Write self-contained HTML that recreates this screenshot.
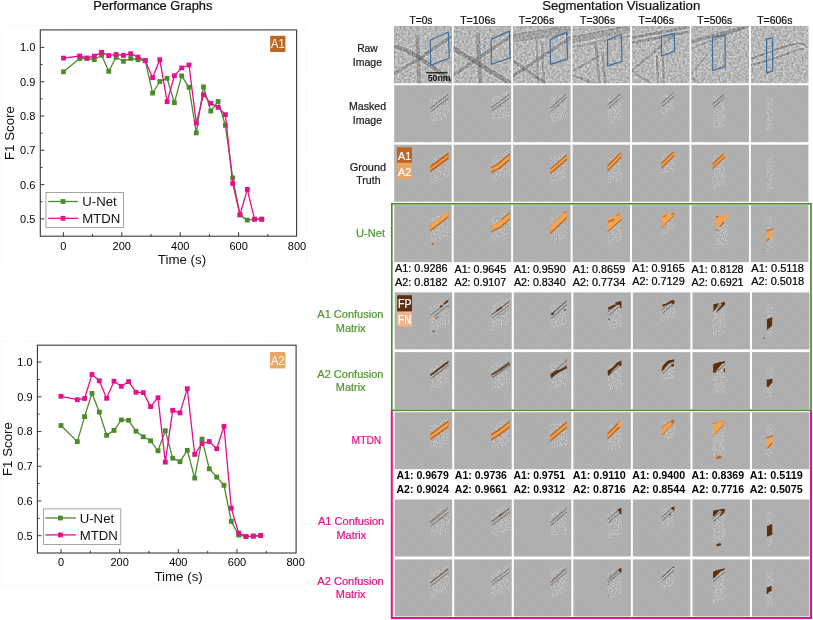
<!DOCTYPE html>
<html><head><meta charset="utf-8"><title>Figure</title>
<style>html,body{margin:0;padding:0;background:#fff;}body{width:813px;height:620px;overflow:hidden;font-family:"Liberation Sans",sans-serif;}svg{display:block;opacity:0.999;will-change:transform}</style>
</head><body>
<svg width="813" height="620" viewBox="0 0 813 620">

<defs>
<filter id="nraw" x="0" y="0" width="100%" height="100%" color-interpolation-filters="sRGB">
  <feTurbulence type="fractalNoise" baseFrequency="0.48" numOctaves="2" seed="3" result="t"/>
  <feColorMatrix in="t" type="matrix" values="1 0 0 0 0  1 0 0 0 0  1 0 0 0 0  0 0 0 0 1" result="g"/>
  <feGaussianBlur in="g" stdDeviation="0.5" result="gb"/>
  <feComposite in="SourceGraphic" in2="gb" operator="arithmetic" k1="0" k2="1" k3="0.44" k4="-0.22"/>
</filter>
<filter id="nmask" x="0" y="0" width="100%" height="100%" color-interpolation-filters="sRGB">
  <feTurbulence type="fractalNoise" baseFrequency="0.75" numOctaves="2" seed="8" result="t"/>
  <feColorMatrix in="t" type="matrix" values="1 0 0 0 0  1 0 0 0 0  1 0 0 0 0  0 0 0 0 1" result="g"/>
  <feGaussianBlur in="g" stdDeviation="0.3" result="gb"/>
  <feComposite in="SourceGraphic" in2="gb" operator="arithmetic" k1="0" k2="1" k3="0.34" k4="-0.15"/>
</filter>
<pattern id="hatch" width="2.3" height="2.3" patternUnits="userSpaceOnUse" patternTransform="rotate(-45)"><rect width="2.3" height="2.3" fill="#b2b2b2"/><rect width="1.15" height="2.3" fill="#acacac"/></pattern>
<filter id="b1" x="-20%" y="-20%" width="140%" height="140%"><feGaussianBlur stdDeviation="0.7"/></filter>
<filter id="b2" x="-20%" y="-20%" width="140%" height="140%"><feGaussianBlur stdDeviation="0.35"/></filter>
</defs>

<rect x="1.6" y="25.6" width="304.9" height="243.20000000000002" fill="none" stroke="#e6e6e6" stroke-width="0.6" stroke-dasharray="1 1.5"/>
<rect x="40.3" y="29.9" width="256.3" height="206.29999999999998" fill="#fff" stroke="#3a3a3a" stroke-width="1.1"/>
<line x1="40.3" y1="47.40" x2="44.3" y2="47.40" stroke="#3a3a3a" stroke-width="1"/>
<text x="35.4" y="51.30" text-anchor="end" font-family="Liberation Sans, sans-serif" font-size="11" fill="#000">1.0</text>
<line x1="40.3" y1="64.55" x2="42.5" y2="64.55" stroke="#3a3a3a" stroke-width="1"/>
<line x1="40.3" y1="81.70" x2="44.3" y2="81.70" stroke="#3a3a3a" stroke-width="1"/>
<text x="35.4" y="85.60" text-anchor="end" font-family="Liberation Sans, sans-serif" font-size="11" fill="#000">0.9</text>
<line x1="40.3" y1="98.85" x2="42.5" y2="98.85" stroke="#3a3a3a" stroke-width="1"/>
<line x1="40.3" y1="116.00" x2="44.3" y2="116.00" stroke="#3a3a3a" stroke-width="1"/>
<text x="35.4" y="119.90" text-anchor="end" font-family="Liberation Sans, sans-serif" font-size="11" fill="#000">0.8</text>
<line x1="40.3" y1="133.15" x2="42.5" y2="133.15" stroke="#3a3a3a" stroke-width="1"/>
<line x1="40.3" y1="150.30" x2="44.3" y2="150.30" stroke="#3a3a3a" stroke-width="1"/>
<text x="35.4" y="154.20" text-anchor="end" font-family="Liberation Sans, sans-serif" font-size="11" fill="#000">0.7</text>
<line x1="40.3" y1="167.45" x2="42.5" y2="167.45" stroke="#3a3a3a" stroke-width="1"/>
<line x1="40.3" y1="184.60" x2="44.3" y2="184.60" stroke="#3a3a3a" stroke-width="1"/>
<text x="35.4" y="188.50" text-anchor="end" font-family="Liberation Sans, sans-serif" font-size="11" fill="#000">0.6</text>
<line x1="40.3" y1="201.75" x2="42.5" y2="201.75" stroke="#3a3a3a" stroke-width="1"/>
<line x1="40.3" y1="218.90" x2="44.3" y2="218.90" stroke="#3a3a3a" stroke-width="1"/>
<text x="35.4" y="222.80" text-anchor="end" font-family="Liberation Sans, sans-serif" font-size="11" fill="#000">0.5</text>
<line x1="63.40" y1="236.2" x2="63.40" y2="232.2" stroke="#3a3a3a" stroke-width="1"/>
<line x1="92.60" y1="236.2" x2="92.60" y2="234.0" stroke="#3a3a3a" stroke-width="1"/>
<text x="63.40" y="249.5" text-anchor="middle" font-family="Liberation Sans, sans-serif" font-size="11" fill="#000">0</text>
<line x1="121.80" y1="236.2" x2="121.80" y2="232.2" stroke="#3a3a3a" stroke-width="1"/>
<line x1="151.00" y1="236.2" x2="151.00" y2="234.0" stroke="#3a3a3a" stroke-width="1"/>
<text x="121.80" y="249.5" text-anchor="middle" font-family="Liberation Sans, sans-serif" font-size="11" fill="#000">200</text>
<line x1="180.20" y1="236.2" x2="180.20" y2="232.2" stroke="#3a3a3a" stroke-width="1"/>
<line x1="209.40" y1="236.2" x2="209.40" y2="234.0" stroke="#3a3a3a" stroke-width="1"/>
<text x="180.20" y="249.5" text-anchor="middle" font-family="Liberation Sans, sans-serif" font-size="11" fill="#000">400</text>
<line x1="238.60" y1="236.2" x2="238.60" y2="232.2" stroke="#3a3a3a" stroke-width="1"/>
<line x1="267.80" y1="236.2" x2="267.80" y2="234.0" stroke="#3a3a3a" stroke-width="1"/>
<text x="238.60" y="249.5" text-anchor="middle" font-family="Liberation Sans, sans-serif" font-size="11" fill="#000">600</text>
<text x="297.00" y="249.5" text-anchor="middle" font-family="Liberation Sans, sans-serif" font-size="11" fill="#000">800</text>
<text x="182" y="264.3" text-anchor="middle" font-family="Liberation Sans, sans-serif" font-size="13.3" fill="#111">Time (s)</text>
<text transform="translate(14.3,133.04999999999998) rotate(-90)" text-anchor="middle" font-family="Liberation Sans, sans-serif" font-size="13.3" fill="#111">F1 Score</text>
<polyline points="63.5,71.8 79.7,58.5 87.0,58.5 94.3,59.7 101.6,55.2 108.8,71.3 116.1,57.3 123.4,61.3 130.7,58.5 138.0,59.7 145.3,60.5 152.6,93.1 159.8,81.5 167.1,78.3 174.4,102.7 181.7,75.9 189.0,87.3 196.3,132.9 203.5,86.9 210.8,111.1 218.1,101.5 225.4,125.3 232.7,177.9 240.0,215.0 247.3,220.1 254.5,219.2 261.8,219.2" fill="none" stroke="#4a8c2a" stroke-width="1.3" stroke-linejoin="round"/>
<rect x="61.1" y="69.4" width="4.8" height="4.8" fill="#4a8c2a"/>
<rect x="77.3" y="56.1" width="4.8" height="4.8" fill="#4a8c2a"/>
<rect x="84.6" y="56.1" width="4.8" height="4.8" fill="#4a8c2a"/>
<rect x="91.9" y="57.3" width="4.8" height="4.8" fill="#4a8c2a"/>
<rect x="99.2" y="52.8" width="4.8" height="4.8" fill="#4a8c2a"/>
<rect x="106.4" y="68.9" width="4.8" height="4.8" fill="#4a8c2a"/>
<rect x="113.7" y="54.9" width="4.8" height="4.8" fill="#4a8c2a"/>
<rect x="121.0" y="58.9" width="4.8" height="4.8" fill="#4a8c2a"/>
<rect x="128.3" y="56.1" width="4.8" height="4.8" fill="#4a8c2a"/>
<rect x="135.6" y="57.3" width="4.8" height="4.8" fill="#4a8c2a"/>
<rect x="142.9" y="58.1" width="4.8" height="4.8" fill="#4a8c2a"/>
<rect x="150.2" y="90.7" width="4.8" height="4.8" fill="#4a8c2a"/>
<rect x="157.4" y="79.1" width="4.8" height="4.8" fill="#4a8c2a"/>
<rect x="164.7" y="75.9" width="4.8" height="4.8" fill="#4a8c2a"/>
<rect x="172.0" y="100.3" width="4.8" height="4.8" fill="#4a8c2a"/>
<rect x="179.3" y="73.5" width="4.8" height="4.8" fill="#4a8c2a"/>
<rect x="186.6" y="84.9" width="4.8" height="4.8" fill="#4a8c2a"/>
<rect x="193.9" y="130.5" width="4.8" height="4.8" fill="#4a8c2a"/>
<rect x="201.1" y="84.5" width="4.8" height="4.8" fill="#4a8c2a"/>
<rect x="208.4" y="108.7" width="4.8" height="4.8" fill="#4a8c2a"/>
<rect x="215.7" y="99.1" width="4.8" height="4.8" fill="#4a8c2a"/>
<rect x="223.0" y="122.9" width="4.8" height="4.8" fill="#4a8c2a"/>
<rect x="230.3" y="175.5" width="4.8" height="4.8" fill="#4a8c2a"/>
<rect x="237.6" y="212.6" width="4.8" height="4.8" fill="#4a8c2a"/>
<rect x="244.9" y="217.7" width="4.8" height="4.8" fill="#4a8c2a"/>
<rect x="252.1" y="216.8" width="4.8" height="4.8" fill="#4a8c2a"/>
<rect x="259.4" y="216.8" width="4.8" height="4.8" fill="#4a8c2a"/>
<polyline points="63.5,58.1 79.7,56.0 87.0,57.9 94.3,56.1 101.6,52.3 108.8,55.6 116.1,54.4 123.4,55.5 130.7,53.7 138.0,57.1 145.3,60.8 152.6,77.7 159.8,59.7 167.1,101.7 174.4,75.7 181.7,67.9 189.0,65.0 196.3,123.1 203.5,94.7 210.8,103.3 218.1,107.4 225.4,114.7 232.7,183.5 240.0,214.7 247.3,189.4 254.5,219.2 261.8,219.2" fill="none" stroke="#e4108c" stroke-width="1.3" stroke-linejoin="round"/>
<rect x="61.1" y="55.7" width="4.8" height="4.8" fill="#e4108c"/>
<rect x="77.3" y="53.6" width="4.8" height="4.8" fill="#e4108c"/>
<rect x="84.6" y="55.5" width="4.8" height="4.8" fill="#e4108c"/>
<rect x="91.9" y="53.7" width="4.8" height="4.8" fill="#e4108c"/>
<rect x="99.2" y="49.9" width="4.8" height="4.8" fill="#e4108c"/>
<rect x="106.4" y="53.2" width="4.8" height="4.8" fill="#e4108c"/>
<rect x="113.7" y="52.0" width="4.8" height="4.8" fill="#e4108c"/>
<rect x="121.0" y="53.1" width="4.8" height="4.8" fill="#e4108c"/>
<rect x="128.3" y="51.3" width="4.8" height="4.8" fill="#e4108c"/>
<rect x="135.6" y="54.7" width="4.8" height="4.8" fill="#e4108c"/>
<rect x="142.9" y="58.4" width="4.8" height="4.8" fill="#e4108c"/>
<rect x="150.2" y="75.3" width="4.8" height="4.8" fill="#e4108c"/>
<rect x="157.4" y="57.3" width="4.8" height="4.8" fill="#e4108c"/>
<rect x="164.7" y="99.3" width="4.8" height="4.8" fill="#e4108c"/>
<rect x="172.0" y="73.3" width="4.8" height="4.8" fill="#e4108c"/>
<rect x="179.3" y="65.5" width="4.8" height="4.8" fill="#e4108c"/>
<rect x="186.6" y="62.6" width="4.8" height="4.8" fill="#e4108c"/>
<rect x="193.9" y="120.7" width="4.8" height="4.8" fill="#e4108c"/>
<rect x="201.1" y="92.3" width="4.8" height="4.8" fill="#e4108c"/>
<rect x="208.4" y="100.9" width="4.8" height="4.8" fill="#e4108c"/>
<rect x="215.7" y="105.0" width="4.8" height="4.8" fill="#e4108c"/>
<rect x="223.0" y="112.3" width="4.8" height="4.8" fill="#e4108c"/>
<rect x="230.3" y="181.1" width="4.8" height="4.8" fill="#e4108c"/>
<rect x="237.6" y="212.3" width="4.8" height="4.8" fill="#e4108c"/>
<rect x="244.9" y="187.0" width="4.8" height="4.8" fill="#e4108c"/>
<rect x="252.1" y="216.8" width="4.8" height="4.8" fill="#e4108c"/>
<rect x="259.4" y="216.8" width="4.8" height="4.8" fill="#e4108c"/>
<rect x="270.2" y="35.8" width="15.199999999999989" height="16.200000000000003" fill="#bf6522"/>
<text x="271.0" y="48.4" font-family="Liberation Sans, sans-serif" font-size="12" fill="#fff" textLength="13.6" lengthAdjust="spacingAndGlyphs">A1</text>
<rect x="46.0" y="192.5" width="77.4" height="35.0" fill="#fff" stroke="#8f8f8f" stroke-width="0.8"/>
<line x1="48.2" y1="201.5" x2="78.3" y2="201.5" stroke="#4a8c2a" stroke-width="1.3"/>
<rect x="60.6" y="199.1" width="4.8" height="4.8" fill="#4a8c2a"/>
<text x="82.3" y="206.2" font-family="Liberation Sans, sans-serif" font-size="13.2" fill="#111">U-Net</text>
<line x1="48.2" y1="218.3" x2="78.3" y2="218.3" stroke="#e4108c" stroke-width="1.3"/>
<rect x="60.6" y="215.9" width="4.8" height="4.8" fill="#e4108c"/>
<text x="82.3" y="223.0" font-family="Liberation Sans, sans-serif" font-size="13.2" fill="#111">MTDN</text>
<rect x="1.6" y="341" width="302.4" height="244.29999999999995" fill="none" stroke="#e6e6e6" stroke-width="0.6" stroke-dasharray="1 1.5"/>
<rect x="37.4" y="345.2" width="258.70000000000005" height="207.8" fill="#fff" stroke="#3a3a3a" stroke-width="1.1"/>
<line x1="37.4" y1="362.10" x2="41.4" y2="362.10" stroke="#3a3a3a" stroke-width="1"/>
<text x="32.6" y="366.00" text-anchor="end" font-family="Liberation Sans, sans-serif" font-size="11" fill="#000">1.0</text>
<line x1="37.4" y1="379.46" x2="39.6" y2="379.46" stroke="#3a3a3a" stroke-width="1"/>
<line x1="37.4" y1="396.82" x2="41.4" y2="396.82" stroke="#3a3a3a" stroke-width="1"/>
<text x="32.6" y="400.72" text-anchor="end" font-family="Liberation Sans, sans-serif" font-size="11" fill="#000">0.9</text>
<line x1="37.4" y1="414.18" x2="39.6" y2="414.18" stroke="#3a3a3a" stroke-width="1"/>
<line x1="37.4" y1="431.54" x2="41.4" y2="431.54" stroke="#3a3a3a" stroke-width="1"/>
<text x="32.6" y="435.44" text-anchor="end" font-family="Liberation Sans, sans-serif" font-size="11" fill="#000">0.8</text>
<line x1="37.4" y1="448.90" x2="39.6" y2="448.90" stroke="#3a3a3a" stroke-width="1"/>
<line x1="37.4" y1="466.26" x2="41.4" y2="466.26" stroke="#3a3a3a" stroke-width="1"/>
<text x="32.6" y="470.16" text-anchor="end" font-family="Liberation Sans, sans-serif" font-size="11" fill="#000">0.7</text>
<line x1="37.4" y1="483.62" x2="39.6" y2="483.62" stroke="#3a3a3a" stroke-width="1"/>
<line x1="37.4" y1="500.98" x2="41.4" y2="500.98" stroke="#3a3a3a" stroke-width="1"/>
<text x="32.6" y="504.88" text-anchor="end" font-family="Liberation Sans, sans-serif" font-size="11" fill="#000">0.6</text>
<line x1="37.4" y1="518.34" x2="39.6" y2="518.34" stroke="#3a3a3a" stroke-width="1"/>
<line x1="37.4" y1="535.70" x2="41.4" y2="535.70" stroke="#3a3a3a" stroke-width="1"/>
<text x="32.6" y="539.60" text-anchor="end" font-family="Liberation Sans, sans-serif" font-size="11" fill="#000">0.5</text>
<line x1="61.00" y1="553.0" x2="61.00" y2="549.0" stroke="#3a3a3a" stroke-width="1"/>
<line x1="90.33" y1="553.0" x2="90.33" y2="550.8" stroke="#3a3a3a" stroke-width="1"/>
<text x="61.00" y="566.3" text-anchor="middle" font-family="Liberation Sans, sans-serif" font-size="11" fill="#000">0</text>
<line x1="119.66" y1="553.0" x2="119.66" y2="549.0" stroke="#3a3a3a" stroke-width="1"/>
<line x1="148.99" y1="553.0" x2="148.99" y2="550.8" stroke="#3a3a3a" stroke-width="1"/>
<text x="119.66" y="566.3" text-anchor="middle" font-family="Liberation Sans, sans-serif" font-size="11" fill="#000">200</text>
<line x1="178.32" y1="553.0" x2="178.32" y2="549.0" stroke="#3a3a3a" stroke-width="1"/>
<line x1="207.65" y1="553.0" x2="207.65" y2="550.8" stroke="#3a3a3a" stroke-width="1"/>
<text x="178.32" y="566.3" text-anchor="middle" font-family="Liberation Sans, sans-serif" font-size="11" fill="#000">400</text>
<line x1="236.98" y1="553.0" x2="236.98" y2="549.0" stroke="#3a3a3a" stroke-width="1"/>
<line x1="266.31" y1="553.0" x2="266.31" y2="550.8" stroke="#3a3a3a" stroke-width="1"/>
<text x="236.98" y="566.3" text-anchor="middle" font-family="Liberation Sans, sans-serif" font-size="11" fill="#000">600</text>
<text x="295.64" y="566.3" text-anchor="middle" font-family="Liberation Sans, sans-serif" font-size="11" fill="#000">800</text>
<text x="178.6" y="581.3" text-anchor="middle" font-family="Liberation Sans, sans-serif" font-size="13.3" fill="#111">Time (s)</text>
<text transform="translate(11.6,449.1) rotate(-90)" text-anchor="middle" font-family="Liberation Sans, sans-serif" font-size="13.3" fill="#111">F1 Score</text>
<polyline points="61.0,425.5 77.3,441.6 84.6,416.6 92.0,393.4 99.3,412.1 106.6,435.3 114.0,430.4 121.3,419.9 128.6,420.3 136.0,431.2 143.3,436.8 150.6,440.8 158.0,450.8 165.3,430.7 172.7,458.2 180.0,461.7 187.3,450.3 194.7,478.1 202.0,439.1 209.3,468.8 216.7,477.1 224.0,485.3 231.3,521.4 238.7,535.1 246.0,536.5 253.3,536.1 260.7,535.5" fill="none" stroke="#4a8c2a" stroke-width="1.3" stroke-linejoin="round"/>
<rect x="58.6" y="423.1" width="4.8" height="4.8" fill="#4a8c2a"/>
<rect x="74.9" y="439.2" width="4.8" height="4.8" fill="#4a8c2a"/>
<rect x="82.2" y="414.2" width="4.8" height="4.8" fill="#4a8c2a"/>
<rect x="89.6" y="391.0" width="4.8" height="4.8" fill="#4a8c2a"/>
<rect x="96.9" y="409.7" width="4.8" height="4.8" fill="#4a8c2a"/>
<rect x="104.2" y="432.9" width="4.8" height="4.8" fill="#4a8c2a"/>
<rect x="111.6" y="428.0" width="4.8" height="4.8" fill="#4a8c2a"/>
<rect x="118.9" y="417.5" width="4.8" height="4.8" fill="#4a8c2a"/>
<rect x="126.2" y="417.9" width="4.8" height="4.8" fill="#4a8c2a"/>
<rect x="133.6" y="428.8" width="4.8" height="4.8" fill="#4a8c2a"/>
<rect x="140.9" y="434.4" width="4.8" height="4.8" fill="#4a8c2a"/>
<rect x="148.2" y="438.4" width="4.8" height="4.8" fill="#4a8c2a"/>
<rect x="155.6" y="448.4" width="4.8" height="4.8" fill="#4a8c2a"/>
<rect x="162.9" y="428.3" width="4.8" height="4.8" fill="#4a8c2a"/>
<rect x="170.3" y="455.8" width="4.8" height="4.8" fill="#4a8c2a"/>
<rect x="177.6" y="459.3" width="4.8" height="4.8" fill="#4a8c2a"/>
<rect x="184.9" y="447.9" width="4.8" height="4.8" fill="#4a8c2a"/>
<rect x="192.3" y="475.7" width="4.8" height="4.8" fill="#4a8c2a"/>
<rect x="199.6" y="436.7" width="4.8" height="4.8" fill="#4a8c2a"/>
<rect x="206.9" y="466.4" width="4.8" height="4.8" fill="#4a8c2a"/>
<rect x="214.3" y="474.7" width="4.8" height="4.8" fill="#4a8c2a"/>
<rect x="221.6" y="482.9" width="4.8" height="4.8" fill="#4a8c2a"/>
<rect x="228.9" y="519.0" width="4.8" height="4.8" fill="#4a8c2a"/>
<rect x="236.3" y="532.7" width="4.8" height="4.8" fill="#4a8c2a"/>
<rect x="243.6" y="534.1" width="4.8" height="4.8" fill="#4a8c2a"/>
<rect x="250.9" y="533.7" width="4.8" height="4.8" fill="#4a8c2a"/>
<rect x="258.3" y="533.1" width="4.8" height="4.8" fill="#4a8c2a"/>
<polyline points="61.0,396.3 77.3,399.7 84.6,398.5 92.0,374.5 99.3,380.8 106.6,398.3 114.0,381.2 121.3,386.3 128.6,381.6 136.0,392.2 143.3,392.6 150.6,406.6 158.0,397.7 165.3,462.1 172.7,410.3 180.0,412.9 187.3,388.7 194.7,454.4 202.0,443.6 209.3,441.5 216.7,448.7 224.0,426.3 231.3,508.2 238.7,533.2 246.0,536.5 253.3,536.1 260.7,535.5" fill="none" stroke="#e4108c" stroke-width="1.3" stroke-linejoin="round"/>
<rect x="58.6" y="393.9" width="4.8" height="4.8" fill="#e4108c"/>
<rect x="74.9" y="397.3" width="4.8" height="4.8" fill="#e4108c"/>
<rect x="82.2" y="396.1" width="4.8" height="4.8" fill="#e4108c"/>
<rect x="89.6" y="372.1" width="4.8" height="4.8" fill="#e4108c"/>
<rect x="96.9" y="378.4" width="4.8" height="4.8" fill="#e4108c"/>
<rect x="104.2" y="395.9" width="4.8" height="4.8" fill="#e4108c"/>
<rect x="111.6" y="378.8" width="4.8" height="4.8" fill="#e4108c"/>
<rect x="118.9" y="383.9" width="4.8" height="4.8" fill="#e4108c"/>
<rect x="126.2" y="379.2" width="4.8" height="4.8" fill="#e4108c"/>
<rect x="133.6" y="389.8" width="4.8" height="4.8" fill="#e4108c"/>
<rect x="140.9" y="390.2" width="4.8" height="4.8" fill="#e4108c"/>
<rect x="148.2" y="404.2" width="4.8" height="4.8" fill="#e4108c"/>
<rect x="155.6" y="395.3" width="4.8" height="4.8" fill="#e4108c"/>
<rect x="162.9" y="459.7" width="4.8" height="4.8" fill="#e4108c"/>
<rect x="170.3" y="407.9" width="4.8" height="4.8" fill="#e4108c"/>
<rect x="177.6" y="410.5" width="4.8" height="4.8" fill="#e4108c"/>
<rect x="184.9" y="386.3" width="4.8" height="4.8" fill="#e4108c"/>
<rect x="192.3" y="452.0" width="4.8" height="4.8" fill="#e4108c"/>
<rect x="199.6" y="441.2" width="4.8" height="4.8" fill="#e4108c"/>
<rect x="206.9" y="439.1" width="4.8" height="4.8" fill="#e4108c"/>
<rect x="214.3" y="446.3" width="4.8" height="4.8" fill="#e4108c"/>
<rect x="221.6" y="423.9" width="4.8" height="4.8" fill="#e4108c"/>
<rect x="228.9" y="505.8" width="4.8" height="4.8" fill="#e4108c"/>
<rect x="236.3" y="530.8" width="4.8" height="4.8" fill="#e4108c"/>
<rect x="243.6" y="534.1" width="4.8" height="4.8" fill="#e4108c"/>
<rect x="250.9" y="533.7" width="4.8" height="4.8" fill="#e4108c"/>
<rect x="258.3" y="533.1" width="4.8" height="4.8" fill="#e4108c"/>
<rect x="270.1" y="352.0" width="15.299999999999955" height="16.399999999999977" fill="#e9a562"/>
<text x="270.90000000000003" y="364.79999999999995" font-family="Liberation Sans, sans-serif" font-size="12" fill="#fff" textLength="13.7" lengthAdjust="spacingAndGlyphs">A2</text>
<rect x="43.5" y="508.9" width="77.3" height="35.5" fill="#fff" stroke="#8f8f8f" stroke-width="0.8"/>
<line x1="45.3" y1="518.0" x2="76.0" y2="518.0" stroke="#4a8c2a" stroke-width="1.3"/>
<rect x="58.0" y="515.6" width="4.8" height="4.8" fill="#4a8c2a"/>
<text x="79.7" y="522.7" font-family="Liberation Sans, sans-serif" font-size="13.2" fill="#111">U-Net</text>
<line x1="45.3" y1="534.9" x2="76.0" y2="534.9" stroke="#e4108c" stroke-width="1.3"/>
<rect x="58.0" y="532.5" width="4.8" height="4.8" fill="#e4108c"/>
<text x="79.7" y="539.6" font-family="Liberation Sans, sans-serif" font-size="13.2" fill="#111">MTDN</text>
<text x="93.3" y="9.7" font-family="Liberation Sans, sans-serif" font-size="12.0" font-weight="normal" fill="#111" stroke="#111" stroke-width="0.22" textLength="119.1" lengthAdjust="spacingAndGlyphs">Performance Graphs</text>
<text x="542.3" y="9.8" font-family="Liberation Sans, sans-serif" font-size="12.0" font-weight="normal" fill="#111" stroke="#111" stroke-width="0.22" textLength="157.9" lengthAdjust="spacingAndGlyphs">Segmentation Visualization</text>
<text x="409.6" y="24.1" font-family="Liberation Sans, sans-serif" font-size="10.1" font-weight="normal" fill="#111" stroke="#111" stroke-width="0.22" textLength="22.7" lengthAdjust="spacingAndGlyphs">T=0s</text>
<text x="460.2" y="24.1" font-family="Liberation Sans, sans-serif" font-size="10.1" font-weight="normal" fill="#111" stroke="#111" stroke-width="0.22" textLength="35.4" lengthAdjust="spacingAndGlyphs">T=106s</text>
<text x="518.8" y="24.1" font-family="Liberation Sans, sans-serif" font-size="10.1" font-weight="normal" fill="#111" stroke="#111" stroke-width="0.22" textLength="35.4" lengthAdjust="spacingAndGlyphs">T=206s</text>
<text x="580.1" y="24.1" font-family="Liberation Sans, sans-serif" font-size="10.1" font-weight="normal" fill="#111" stroke="#111" stroke-width="0.22" textLength="35.0" lengthAdjust="spacingAndGlyphs">T=306s</text>
<text x="638.6" y="24.1" font-family="Liberation Sans, sans-serif" font-size="10.1" font-weight="normal" fill="#111" stroke="#111" stroke-width="0.22" textLength="35.4" lengthAdjust="spacingAndGlyphs">T=406s</text>
<text x="697.3" y="24.1" font-family="Liberation Sans, sans-serif" font-size="10.1" font-weight="normal" fill="#111" stroke="#111" stroke-width="0.22" textLength="34.9" lengthAdjust="spacingAndGlyphs">T=506s</text>
<text x="757.2" y="24.1" font-family="Liberation Sans, sans-serif" font-size="10.1" font-weight="normal" fill="#111" stroke="#111" stroke-width="0.22" textLength="35.2" lengthAdjust="spacingAndGlyphs">T=606s</text>
<text x="357.2" y="51.9" font-family="Liberation Sans, sans-serif" font-size="10.6" font-weight="normal" fill="#1a1a1a" stroke="#1a1a1a" stroke-width="0.22" textLength="20.6" lengthAdjust="spacingAndGlyphs">Raw</text>
<text x="352.8" y="65.7" font-family="Liberation Sans, sans-serif" font-size="10.6" font-weight="normal" fill="#1a1a1a" stroke="#1a1a1a" stroke-width="0.22" textLength="29.3" lengthAdjust="spacingAndGlyphs">Image</text>
<text x="348.9" y="110.3" font-family="Liberation Sans, sans-serif" font-size="10.6" font-weight="normal" fill="#1a1a1a" stroke="#1a1a1a" stroke-width="0.22" textLength="37.2" lengthAdjust="spacingAndGlyphs">Masked</text>
<text x="352.8" y="124.1" font-family="Liberation Sans, sans-serif" font-size="10.6" font-weight="normal" fill="#1a1a1a" stroke="#1a1a1a" stroke-width="0.22" textLength="29.3" lengthAdjust="spacingAndGlyphs">Image</text>
<text x="349.7" y="170.5" font-family="Liberation Sans, sans-serif" font-size="10.6" font-weight="normal" fill="#1a1a1a" stroke="#1a1a1a" stroke-width="0.22" textLength="36.4" lengthAdjust="spacingAndGlyphs">Ground</text>
<text x="356.3" y="184.0" font-family="Liberation Sans, sans-serif" font-size="10.6" font-weight="normal" fill="#1a1a1a" stroke="#1a1a1a" stroke-width="0.22" textLength="24.2" lengthAdjust="spacingAndGlyphs">Truth</text>
<text x="356.0" y="236.8" font-family="Liberation Sans, sans-serif" font-size="10.6" font-weight="normal" fill="#4f962f" stroke="#4f962f" stroke-width="0.22" textLength="29.0" lengthAdjust="spacingAndGlyphs">U-Net</text>
<text x="317.3" y="317.9" font-family="Liberation Sans, sans-serif" font-size="10.6" font-weight="normal" fill="#4f962f" stroke="#4f962f" stroke-width="0.22" textLength="66.1" lengthAdjust="spacingAndGlyphs">A1 Confusion</text>
<text x="335.8" y="331.8" font-family="Liberation Sans, sans-serif" font-size="10.6" font-weight="normal" fill="#4f962f" stroke="#4f962f" stroke-width="0.22" textLength="29.8" lengthAdjust="spacingAndGlyphs">Matrix</text>
<text x="317.3" y="377.7" font-family="Liberation Sans, sans-serif" font-size="10.6" font-weight="normal" fill="#4f962f" stroke="#4f962f" stroke-width="0.22" textLength="66.2" lengthAdjust="spacingAndGlyphs">A2 Confusion</text>
<text x="335.8" y="391.3" font-family="Liberation Sans, sans-serif" font-size="10.6" font-weight="normal" fill="#4f962f" stroke="#4f962f" stroke-width="0.22" textLength="29.8" lengthAdjust="spacingAndGlyphs">Matrix</text>
<text x="351.6" y="443.9" font-family="Liberation Sans, sans-serif" font-size="10.6" font-weight="normal" fill="#e3128a" stroke="#e3128a" stroke-width="0.22" textLength="29.7" lengthAdjust="spacingAndGlyphs">MTDN</text>
<text x="318.0" y="524.8" font-family="Liberation Sans, sans-serif" font-size="10.6" font-weight="normal" fill="#e3128a" stroke="#e3128a" stroke-width="0.22" textLength="66.2" lengthAdjust="spacingAndGlyphs">A1 Confusion</text>
<text x="336.6" y="538.5" font-family="Liberation Sans, sans-serif" font-size="10.6" font-weight="normal" fill="#e3128a" stroke="#e3128a" stroke-width="0.22" textLength="29.5" lengthAdjust="spacingAndGlyphs">Matrix</text>
<text x="317.3" y="584.8" font-family="Liberation Sans, sans-serif" font-size="10.6" font-weight="normal" fill="#e3128a" stroke="#e3128a" stroke-width="0.22" textLength="66.4" lengthAdjust="spacingAndGlyphs">A2 Confusion</text>
<text x="335.8" y="598.4" font-family="Liberation Sans, sans-serif" font-size="10.6" font-weight="normal" fill="#e3128a" stroke="#e3128a" stroke-width="0.22" textLength="29.8" lengthAdjust="spacingAndGlyphs">Matrix</text>
<clipPath id="c1"><rect x="394.20" y="26.30" width="57.5" height="57.0"/></clipPath>
<g clip-path="url(#c1)"><g filter="url(#nraw)">
<rect x="394.20" y="26.30" width="57.5" height="57.0" fill="#b7b7b7"/>
<g transform="translate(394.20,26.30)" filter="url(#b1)" fill="none" stroke="#646464" stroke-linecap="round">
<path d="M-2,20 C12,22 24,30 40,42 L60,58" stroke="#e8e8e8" stroke-width="6.9" stroke-opacity="0.30"/>
<path d="M-2,49 L30,29 L60,8" stroke="#e8e8e8" stroke-width="5.9" stroke-opacity="0.28"/>
<path d="M23,10 L25,60" stroke="#e8e8e8" stroke-width="6.4" stroke-opacity="0.25"/>
<path d="M3,8 a3,3 0 1,0 0.1,0" stroke="#e8e8e8" stroke-width="3.5999999999999996" stroke-opacity="0.22"/>
<path d="M-2,20 C12,22 24,30 40,42 L60,58" stroke-width="4.5" stroke-opacity="0.55"/>
<path d="M-2,49 L30,29 L60,8" stroke-width="3.5" stroke-opacity="0.5"/>
<path d="M23,10 L25,60" stroke-width="4" stroke-opacity="0.45"/>
<path d="M3,8 a3,3 0 1,0 0.1,0" stroke-width="1.2" stroke-opacity="0.4"/>
</g></g>
<polygon points="430.20,40.20 448.30,32.00 449.30,58.00 430.60,65.40" fill="none" stroke="#3f6f9b" stroke-width="1.2" stroke-linejoin="round"/>
</g>
<clipPath id="c2"><rect x="394.20" y="85.20" width="57.5" height="57.0"/></clipPath>
<rect x="394.20" y="85.20" width="57.5" height="57.0" fill="url(#hatch)"/>
<clipPath id="c3"><polygon points="430.20,99.10 448.30,90.90 449.30,116.90 430.60,124.30"/></clipPath>
<g clip-path="url(#c2)"><g clip-path="url(#c3)"><g filter="url(#nmask)">
<rect x="394.20" y="85.20" width="57.5" height="57.0" fill="#b0b0b0"/>
<g transform="translate(394.20,85.20)" fill="none" stroke="#6c6c6c" stroke-opacity=".7" filter="url(#b2)"><path d="M35.6,25.5 L55,10.3" stroke-width="4.2"/><path d="M35.6,25.5 L55,10.3" stroke="#b8b8b8" stroke-opacity="1" stroke-width="1.5"/></g>
</g>
</g>
</g>
<clipPath id="c4"><rect x="394.20" y="144.70" width="57.5" height="57.0"/></clipPath>
<rect x="394.20" y="144.70" width="57.5" height="57.0" fill="url(#hatch)"/>
<clipPath id="c5"><polygon points="430.20,158.60 448.30,150.40 449.30,176.40 430.60,183.80"/></clipPath>
<g clip-path="url(#c4)"><g clip-path="url(#c5)"><g filter="url(#nmask)">
<rect x="394.20" y="144.70" width="57.5" height="57.0" fill="#b0b0b0"/>
</g>
<g transform="translate(394.20,144.70)"><path d="M30,28.8 L60,6.8" fill="none" stroke="#c4651c" stroke-width="5.6" stroke-opacity="1" stroke-linecap="butt" stroke-linejoin="round"/><path d="M30,28.8 L60,6.8" fill="none" stroke="#efa556" stroke-width="1.5" stroke-opacity="1" stroke-linecap="butt" stroke-linejoin="round"/></g>
</g>
</g>
<clipPath id="c6"><rect x="394.20" y="205.10" width="57.5" height="57.0"/></clipPath>
<rect x="394.20" y="205.10" width="57.5" height="57.0" fill="url(#hatch)"/>
<clipPath id="c7"><polygon points="430.20,219.00 448.30,210.80 449.30,236.80 430.60,244.20"/></clipPath>
<g clip-path="url(#c6)"><g clip-path="url(#c7)"><g filter="url(#nmask)">
<rect x="394.20" y="205.10" width="57.5" height="57.0" fill="#b0b0b0"/>
</g>
<g transform="translate(394.20,205.10)"><path d="M30,27.6 L60,4.7" fill="none" stroke="#c4651c" stroke-width="5.4" stroke-opacity="1" stroke-linecap="butt" stroke-linejoin="round"/><g transform="translate(-0.35,-0.55)"><path d="M30,27.6 L60,4.7" fill="none" stroke="#efa556" stroke-width="4.1000000000000005" stroke-opacity="1" stroke-linecap="butt" stroke-linejoin="round"/></g></g>
</g>
<g transform="translate(394.20,205.10)"><ellipse cx="38.6" cy="38.9" rx="1.4" ry="0.8" fill="#c4651c" transform="rotate(-25 38.6 38.9)"/></g>
</g>
<clipPath id="c8"><rect x="394.70" y="292.40" width="57.5" height="57.0"/></clipPath>
<rect x="394.70" y="292.40" width="57.5" height="57.0" fill="url(#hatch)"/>
<clipPath id="c9"><polygon points="430.20,306.30 448.30,298.10 449.30,324.10 430.60,331.50"/></clipPath>
<g clip-path="url(#c8)"><g clip-path="url(#c9)"><g filter="url(#nmask)">
<rect x="394.20" y="292.40" width="57.5" height="57.0" fill="#b0b0b0"/>
<g transform="translate(394.20,292.40)" fill="none" stroke="#6c6c6c" stroke-opacity=".7" filter="url(#b2)"><path d="M35.6,25.5 L55,10.3" stroke-width="4.2"/><path d="M35.6,25.5 L55,10.3" stroke="#b8b8b8" stroke-opacity="1" stroke-width="1.5"/></g>
</g>
<g transform="translate(394.20,292.40)"><ellipse cx="46.9" cy="13.9" rx="1.5" ry="1.0" fill="#5e2f0c" transform="rotate(-35 46.9 13.9)"/><path d="M50.1,10.9 L55.6,7.0" fill="none" stroke="#5e2f0c" stroke-width="1.5" stroke-opacity="1" stroke-linecap="round" stroke-linejoin="round"/><ellipse cx="38.2" cy="26.0" rx="1.3" ry="1.9" fill="#f2b28e" transform="rotate(25 38.2 26.0)"/><path d="M48.2,20.2 L53.3,18.3" fill="none" stroke="#f2b28e" stroke-width="0.8" stroke-opacity="1" stroke-linecap="butt" stroke-linejoin="round"/><path d="M41.1,26 L45,24.1" fill="none" stroke="#5e2f0c" stroke-width="0.8" stroke-opacity="0.8" stroke-linecap="butt" stroke-linejoin="round"/><ellipse cx="54.6" cy="14.8" rx="0.6" ry="0.6" fill="#5e2f0c" transform="rotate(0 54.6 14.8)"/></g>
</g>
<g transform="translate(394.20,292.40)"><ellipse cx="39.4" cy="38.9" rx="1.1" ry="0.7" fill="#5e2f0c" transform="rotate(-20 39.4 38.9)"/></g>
</g>
<clipPath id="c10"><rect x="394.70" y="352.10" width="57.5" height="57.0"/></clipPath>
<rect x="394.70" y="352.10" width="57.5" height="57.0" fill="url(#hatch)"/>
<clipPath id="c11"><polygon points="430.20,366.00 448.30,357.80 449.30,383.80 430.60,391.20"/></clipPath>
<g clip-path="url(#c10)"><g clip-path="url(#c11)"><g filter="url(#nmask)">
<rect x="394.20" y="352.10" width="57.5" height="57.0" fill="#b0b0b0"/>
<g transform="translate(394.20,352.10)" fill="none" stroke="#6c6c6c" stroke-opacity=".7" filter="url(#b2)"><path d="M35.6,25.5 L55,10.3" stroke-width="4.2"/><path d="M35.6,25.5 L55,10.3" stroke="#b8b8b8" stroke-opacity="1" stroke-width="1.5"/></g>
</g>
<g transform="translate(394.20,352.10)"><path d="M36,23.1 C43,19 48,13.5 56,8.7" fill="none" stroke="#5e2f0c" stroke-width="1.7" stroke-opacity="1" stroke-linecap="butt" stroke-linejoin="round"/><path d="M39,24.8 L56,12.6" fill="none" stroke="#5e2f0c" stroke-width="0.5" stroke-opacity="0.5" stroke-linecap="butt" stroke-linejoin="round"/></g>
</g>
</g>
<clipPath id="c12"><rect x="394.70" y="412.20" width="57.5" height="57.0"/></clipPath>
<rect x="394.70" y="412.20" width="57.5" height="57.0" fill="url(#hatch)"/>
<clipPath id="c13"><polygon points="430.20,426.10 448.30,417.90 449.30,443.90 430.60,451.30"/></clipPath>
<g clip-path="url(#c12)"><g clip-path="url(#c13)"><g filter="url(#nmask)">
<rect x="394.20" y="412.20" width="57.5" height="57.0" fill="#b0b0b0"/>
</g>
<g transform="translate(394.20,412.20)"><path d="M30,29.3 L60,7.3" fill="none" stroke="#c4651c" stroke-width="5.8" stroke-opacity="1" stroke-linecap="butt" stroke-linejoin="round"/><path d="M30,29.3 L60,7.3" fill="none" stroke="#efa556" stroke-width="2.5" stroke-opacity="1" stroke-linecap="butt" stroke-linejoin="round"/></g>
</g>
</g>
<clipPath id="c14"><rect x="394.70" y="499.50" width="57.5" height="57.0"/></clipPath>
<rect x="394.70" y="499.50" width="57.5" height="57.0" fill="url(#hatch)"/>
<clipPath id="c15"><polygon points="430.20,513.40 448.30,505.20 449.30,531.20 430.60,538.60"/></clipPath>
<g clip-path="url(#c14)"><g clip-path="url(#c15)"><g filter="url(#nmask)">
<rect x="394.20" y="499.50" width="57.5" height="57.0" fill="#b0b0b0"/>
<g transform="translate(394.20,499.50)" fill="none" stroke="#6c6c6c" stroke-opacity=".7" filter="url(#b2)"><path d="M35.6,25.5 L55,10.3" stroke-width="4.2"/><path d="M35.6,25.5 L55,10.3" stroke="#b8b8b8" stroke-opacity="1" stroke-width="1.5"/></g>
</g>
<g transform="translate(394.20,499.50)"><path d="M36,22 L54.3,7" fill="none" stroke="#5e2f0c" stroke-width="0.6" stroke-opacity="0.7" stroke-linecap="butt" stroke-linejoin="round"/><path d="M36,28.1 L54.3,14.8" fill="none" stroke="#b9805a" stroke-width="0.5" stroke-opacity="0.6" stroke-linecap="butt" stroke-linejoin="round"/></g>
</g>
</g>
<clipPath id="c16"><rect x="394.70" y="559.40" width="57.5" height="57.0"/></clipPath>
<rect x="394.70" y="559.40" width="57.5" height="57.0" fill="url(#hatch)"/>
<clipPath id="c17"><polygon points="430.20,573.30 448.30,565.10 449.30,591.10 430.60,598.50"/></clipPath>
<g clip-path="url(#c16)"><g clip-path="url(#c17)"><g filter="url(#nmask)">
<rect x="394.20" y="559.40" width="57.5" height="57.0" fill="#b0b0b0"/>
<g transform="translate(394.20,559.40)" fill="none" stroke="#6c6c6c" stroke-opacity=".7" filter="url(#b2)"><path d="M35.6,25.5 L55,10.3" stroke-width="4.2"/><path d="M35.6,25.5 L55,10.3" stroke="#b8b8b8" stroke-opacity="1" stroke-width="1.5"/></g>
</g>
<g transform="translate(394.20,559.40)"><path d="M36,23.7 L54.3,9.35" fill="none" stroke="#5e2f0c" stroke-width="0.8" stroke-opacity="0.85" stroke-linecap="butt" stroke-linejoin="round"/></g>
</g>
</g>
<clipPath id="c18"><rect x="453.65" y="26.30" width="57.5" height="57.0"/></clipPath>
<g clip-path="url(#c18)"><g filter="url(#nraw)">
<rect x="453.65" y="26.30" width="57.5" height="57.0" fill="#b7b7b7"/>
<g transform="translate(453.65,26.30)" filter="url(#b1)" fill="none" stroke="#646464" stroke-linecap="round">
<path d="M-2,21 L60,59" stroke="#e8e8e8" stroke-width="7.4" stroke-opacity="0.30"/>
<path d="M-2,50 L60,8" stroke="#e8e8e8" stroke-width="5.9" stroke-opacity="0.28"/>
<path d="M24,8 L27,60" stroke="#e8e8e8" stroke-width="6.9" stroke-opacity="0.25"/>
<path d="M31,12 L31,40" stroke="#e8e8e8" stroke-width="4.4" stroke-opacity="0.17"/>
<path d="M-2,21 L60,59" stroke-width="5" stroke-opacity="0.55"/>
<path d="M-2,50 L60,8" stroke-width="3.5" stroke-opacity="0.5"/>
<path d="M24,8 L27,60" stroke-width="4.5" stroke-opacity="0.45"/>
<path d="M31,12 L31,40" stroke-width="2" stroke-opacity="0.3"/>
</g></g>
<polygon points="491.25,39.40 509.35,31.10 510.05,57.90 491.25,64.40" fill="none" stroke="#3f6f9b" stroke-width="1.2" stroke-linejoin="round"/>
</g>
<clipPath id="c19"><rect x="453.65" y="85.20" width="57.5" height="57.0"/></clipPath>
<rect x="453.65" y="85.20" width="57.5" height="57.0" fill="url(#hatch)"/>
<clipPath id="c20"><polygon points="491.25,98.30 509.35,90.00 510.05,116.80 491.25,123.30"/></clipPath>
<g clip-path="url(#c19)"><g clip-path="url(#c20)"><g filter="url(#nmask)">
<rect x="453.65" y="85.20" width="57.5" height="57.0" fill="#b0b0b0"/>
<g transform="translate(453.65,85.20)" fill="none" stroke="#6c6c6c" stroke-opacity=".7" filter="url(#b2)"><path d="M37.5,24.5 L56.5,10.5" stroke-width="4.2"/><path d="M37.5,24.5 L56.5,10.5" stroke="#b8b8b8" stroke-opacity="1" stroke-width="1.5"/></g>
</g>
</g>
</g>
<clipPath id="c21"><rect x="453.65" y="144.70" width="57.5" height="57.0"/></clipPath>
<rect x="453.65" y="144.70" width="57.5" height="57.0" fill="url(#hatch)"/>
<clipPath id="c22"><polygon points="491.25,157.80 509.35,149.50 510.05,176.30 491.25,182.80"/></clipPath>
<g clip-path="url(#c21)"><g clip-path="url(#c22)"><g filter="url(#nmask)">
<rect x="453.65" y="144.70" width="57.5" height="57.0" fill="#b0b0b0"/>
</g>
<g transform="translate(453.65,144.70)"><path d="M32,27.9 L44.5,21.8 L60,8.7" fill="none" stroke="#c4651c" stroke-width="5.8" stroke-opacity="1" stroke-linecap="butt" stroke-linejoin="round"/><path d="M32,27.9 L44.5,21.8 L60,8.7" fill="none" stroke="#efa556" stroke-width="2.6" stroke-opacity="1" stroke-linecap="butt" stroke-linejoin="round"/></g>
</g>
</g>
<clipPath id="c23"><rect x="453.65" y="205.10" width="57.5" height="57.0"/></clipPath>
<rect x="453.65" y="205.10" width="57.5" height="57.0" fill="url(#hatch)"/>
<clipPath id="c24"><polygon points="491.25,218.20 509.35,209.90 510.05,236.70 491.25,243.20"/></clipPath>
<g clip-path="url(#c23)"><g clip-path="url(#c24)"><g filter="url(#nmask)">
<rect x="453.65" y="205.10" width="57.5" height="57.0" fill="#b0b0b0"/>
</g>
<g transform="translate(453.65,205.10)"><path d="M32,26.8 L45,20.5 L60,7.7" fill="none" stroke="#c4651c" stroke-width="5.9" stroke-opacity="1" stroke-linecap="butt" stroke-linejoin="round"/><g transform="translate(-0.35,-0.55)"><path d="M32,26.8 L45,20.5 L60,7.7" fill="none" stroke="#efa556" stroke-width="4.6000000000000005" stroke-opacity="1" stroke-linecap="butt" stroke-linejoin="round"/></g><path d="M47,15.2 L56.5,7.2" fill="none" stroke="#c4651c" stroke-width="1.1" stroke-opacity="1" stroke-linecap="butt" stroke-linejoin="round"/></g>
</g>
</g>
<clipPath id="c25"><rect x="454.25" y="292.40" width="57.5" height="57.0"/></clipPath>
<rect x="454.25" y="292.40" width="57.5" height="57.0" fill="url(#hatch)"/>
<clipPath id="c26"><polygon points="491.25,305.50 509.35,297.20 510.05,324.00 491.25,330.50"/></clipPath>
<g clip-path="url(#c25)"><g clip-path="url(#c26)"><g filter="url(#nmask)">
<rect x="453.65" y="292.40" width="57.5" height="57.0" fill="#b0b0b0"/>
<g transform="translate(453.65,292.40)" fill="none" stroke="#6c6c6c" stroke-opacity=".7" filter="url(#b2)"><path d="M37.5,24.5 L56.5,10.5" stroke-width="4.2"/><path d="M37.5,24.5 L56.5,10.5" stroke="#b8b8b8" stroke-opacity="1" stroke-width="1.5"/></g>
</g>
<g transform="translate(453.65,292.40)"><path d="M38.4,22.1 L55.6,8.8" fill="none" stroke="#5e2f0c" stroke-width="0.8" stroke-opacity="0.7" stroke-linecap="butt" stroke-linejoin="round"/><path d="M43.4,18.2 L47.8,15.3" fill="none" stroke="#5e2f0c" stroke-width="1.5" stroke-opacity="1" stroke-linecap="round" stroke-linejoin="round"/><path d="M43.4,25.4 L55.6,16" fill="none" stroke="#5e2f0c" stroke-width="0.6" stroke-opacity="0.45" stroke-linecap="butt" stroke-linejoin="round"/></g>
</g>
</g>
<clipPath id="c27"><rect x="454.25" y="352.10" width="57.5" height="57.0"/></clipPath>
<rect x="454.25" y="352.10" width="57.5" height="57.0" fill="url(#hatch)"/>
<clipPath id="c28"><polygon points="491.25,365.20 509.35,356.90 510.05,383.70 491.25,390.20"/></clipPath>
<g clip-path="url(#c27)"><g clip-path="url(#c28)"><g filter="url(#nmask)">
<rect x="453.65" y="352.10" width="57.5" height="57.0" fill="#b0b0b0"/>
<g transform="translate(453.65,352.10)" fill="none" stroke="#6c6c6c" stroke-opacity=".7" filter="url(#b2)"><path d="M37.5,24.5 L56.5,10.5" stroke-width="4.2"/><path d="M37.5,24.5 L56.5,10.5" stroke="#b8b8b8" stroke-opacity="1" stroke-width="1.5"/></g>
</g>
<g transform="translate(453.65,352.10)"><path d="M37.5,23.0 L45.2,18.5 L57,10.3" fill="none" stroke="#5e2f0c" stroke-width="1.4" stroke-opacity="1" stroke-linecap="butt" stroke-linejoin="round"/><path d="M56.1,10.9 L55.8,14" fill="none" stroke="#5e2f0c" stroke-width="1.0" stroke-opacity="1" stroke-linecap="butt" stroke-linejoin="round"/><path d="M38.55,25.7 L55.7,14.6" fill="none" stroke="#5e2f0c" stroke-width="0.5" stroke-opacity="0.5" stroke-linecap="butt" stroke-linejoin="round"/></g>
</g>
</g>
<clipPath id="c29"><rect x="454.25" y="412.20" width="57.5" height="57.0"/></clipPath>
<rect x="454.25" y="412.20" width="57.5" height="57.0" fill="url(#hatch)"/>
<clipPath id="c30"><polygon points="491.25,425.30 509.35,417.00 510.05,443.80 491.25,450.30"/></clipPath>
<g clip-path="url(#c29)"><g clip-path="url(#c30)"><g filter="url(#nmask)">
<rect x="453.65" y="412.20" width="57.5" height="57.0" fill="#b0b0b0"/>
</g>
<g transform="translate(453.65,412.20)"><path d="M32,28.7 L46.3,19.5 L60,8.9" fill="none" stroke="#c4651c" stroke-width="5.8" stroke-opacity="1" stroke-linecap="butt" stroke-linejoin="round"/><path d="M32,28.7 L46.3,19.5 L60,8.9" fill="none" stroke="#efa556" stroke-width="2.5" stroke-opacity="1" stroke-linecap="butt" stroke-linejoin="round"/></g>
</g>
</g>
<clipPath id="c31"><rect x="454.25" y="499.50" width="57.5" height="57.0"/></clipPath>
<rect x="454.25" y="499.50" width="57.5" height="57.0" fill="url(#hatch)"/>
<clipPath id="c32"><polygon points="491.25,512.60 509.35,504.30 510.05,531.10 491.25,537.60"/></clipPath>
<g clip-path="url(#c31)"><g clip-path="url(#c32)"><g filter="url(#nmask)">
<rect x="453.65" y="499.50" width="57.5" height="57.0" fill="#b0b0b0"/>
<g transform="translate(453.65,499.50)" fill="none" stroke="#6c6c6c" stroke-opacity=".7" filter="url(#b2)"><path d="M37.5,24.5 L56.5,10.5" stroke-width="4.2"/><path d="M37.5,24.5 L56.5,10.5" stroke="#b8b8b8" stroke-opacity="1" stroke-width="1.5"/></g>
</g>
<g transform="translate(453.65,499.50)"><ellipse cx="46.5" cy="15.9" rx="1.3" ry="0.8" fill="#5e2f0c" transform="rotate(-35 46.5 15.9)"/><path d="M38.55,21.4 L55.7,8.7" fill="none" stroke="#5e2f0c" stroke-width="0.5" stroke-opacity="0.7" stroke-linecap="butt" stroke-linejoin="round"/></g>
</g>
</g>
<clipPath id="c33"><rect x="454.25" y="559.40" width="57.5" height="57.0"/></clipPath>
<rect x="454.25" y="559.40" width="57.5" height="57.0" fill="url(#hatch)"/>
<clipPath id="c34"><polygon points="491.25,572.50 509.35,564.20 510.05,591.00 491.25,597.50"/></clipPath>
<g clip-path="url(#c33)"><g clip-path="url(#c34)"><g filter="url(#nmask)">
<rect x="453.65" y="559.40" width="57.5" height="57.0" fill="#b0b0b0"/>
<g transform="translate(453.65,559.40)" fill="none" stroke="#6c6c6c" stroke-opacity=".7" filter="url(#b2)"><path d="M37.5,24.5 L56.5,10.5" stroke-width="4.2"/><path d="M37.5,24.5 L56.5,10.5" stroke="#b8b8b8" stroke-opacity="1" stroke-width="1.5"/></g>
</g>
<g transform="translate(453.65,559.40)"><path d="M38.5,24.5 L55.7,12" fill="none" stroke="#b9805a" stroke-width="0.5" stroke-opacity="0.5" stroke-linecap="butt" stroke-linejoin="round"/></g>
</g>
</g>
<clipPath id="c35"><rect x="513.10" y="26.30" width="57.5" height="57.0"/></clipPath>
<g clip-path="url(#c35)"><g filter="url(#nraw)">
<rect x="513.10" y="26.30" width="57.5" height="57.0" fill="#b7b7b7"/>
<g transform="translate(513.10,26.30)" filter="url(#b1)" fill="none" stroke="#646464" stroke-linecap="round">
<path d="M-2,12 L60,3" stroke="#e8e8e8" stroke-width="10.4" stroke-opacity="0.18"/>
<path d="M-2,8.5 L60,-0.5" stroke="#e8e8e8" stroke-width="3.9" stroke-opacity="0.17"/>
<path d="M-2,16 L60,7" stroke="#e8e8e8" stroke-width="3.9" stroke-opacity="0.17"/>
<path d="M-2,51 L58,11" stroke="#e8e8e8" stroke-width="5.9" stroke-opacity="0.28"/>
<path d="M-2,33 L36,60" stroke="#e8e8e8" stroke-width="5.9" stroke-opacity="0.25"/>
<path d="M23.5,14 L25,60" stroke="#e8e8e8" stroke-width="4.6" stroke-opacity="0.22"/>
<path d="M29,16 L31,60" stroke="#e8e8e8" stroke-width="5.0" stroke-opacity="0.22"/>
<path d="M-2,12 L60,3" stroke-width="8" stroke-opacity="0.33"/>
<path d="M-2,8.5 L60,-0.5" stroke-width="1.5" stroke-opacity="0.3"/>
<path d="M-2,16 L60,7" stroke-width="1.5" stroke-opacity="0.3"/>
<path d="M-2,51 L58,11" stroke-width="3.5" stroke-opacity="0.5"/>
<path d="M-2,33 L36,60" stroke-width="3.5" stroke-opacity="0.45"/>
<path d="M23.5,14 L25,60" stroke-width="2.2" stroke-opacity="0.4"/>
<path d="M29,16 L31,60" stroke-width="2.6" stroke-opacity="0.4"/>
</g></g>
<polygon points="550.20,39.40 566.60,32.10 567.60,58.90 550.50,64.40" fill="none" stroke="#3f6f9b" stroke-width="1.2" stroke-linejoin="round"/>
</g>
<clipPath id="c36"><rect x="513.10" y="85.20" width="57.5" height="57.0"/></clipPath>
<rect x="513.10" y="85.20" width="57.5" height="57.0" fill="url(#hatch)"/>
<clipPath id="c37"><polygon points="550.20,98.30 566.60,91.00 567.60,117.80 550.50,123.30"/></clipPath>
<g clip-path="url(#c36)"><g clip-path="url(#c37)"><g filter="url(#nmask)">
<rect x="513.10" y="85.20" width="57.5" height="57.0" fill="#b0b0b0"/>
<g transform="translate(513.10,85.20)" fill="none" stroke="#6c6c6c" stroke-opacity=".7" filter="url(#b2)"><path d="M37,25 L54.5,9.5" stroke-width="4.2"/><path d="M37,25 L54.5,9.5" stroke="#b8b8b8" stroke-opacity="1" stroke-width="1.5"/></g>
</g>
</g>
</g>
<clipPath id="c38"><rect x="513.10" y="144.70" width="57.5" height="57.0"/></clipPath>
<rect x="513.10" y="144.70" width="57.5" height="57.0" fill="url(#hatch)"/>
<clipPath id="c39"><polygon points="550.20,157.80 566.60,150.50 567.60,177.30 550.50,182.80"/></clipPath>
<g clip-path="url(#c38)"><g clip-path="url(#c39)"><g filter="url(#nmask)">
<rect x="513.10" y="144.70" width="57.5" height="57.0" fill="#b0b0b0"/>
</g>
<g transform="translate(513.10,144.70)"><path d="M32,31.1 L58,8.7" fill="none" stroke="#c4651c" stroke-width="4.8" stroke-opacity="1" stroke-linecap="butt" stroke-linejoin="round"/><path d="M32,31.1 L58,8.7" fill="none" stroke="#efa556" stroke-width="1.9" stroke-opacity="1" stroke-linecap="butt" stroke-linejoin="round"/></g>
</g>
</g>
<clipPath id="c40"><rect x="513.10" y="205.10" width="57.5" height="57.0"/></clipPath>
<rect x="513.10" y="205.10" width="57.5" height="57.0" fill="url(#hatch)"/>
<clipPath id="c41"><polygon points="550.20,218.20 566.60,210.90 567.60,237.70 550.50,243.20"/></clipPath>
<g clip-path="url(#c40)"><g clip-path="url(#c41)"><g filter="url(#nmask)">
<rect x="513.10" y="205.10" width="57.5" height="57.0" fill="#b0b0b0"/>
</g>
<g transform="translate(513.10,205.10)"><path d="M32,30 L58,5.3" fill="none" stroke="#c4651c" stroke-width="6.1" stroke-opacity="1" stroke-linecap="butt" stroke-linejoin="round"/><g transform="translate(-0.35,-0.55)"><path d="M32,30 L58,5.3" fill="none" stroke="#efa556" stroke-width="4.8" stroke-opacity="1" stroke-linecap="butt" stroke-linejoin="round"/></g><path d="M50.5,8 L54,5.2" fill="none" stroke="#c4651c" stroke-width="1.1" stroke-opacity="1" stroke-linecap="butt" stroke-linejoin="round"/></g>
</g>
</g>
<clipPath id="c42"><rect x="513.80" y="292.40" width="57.5" height="57.0"/></clipPath>
<rect x="513.80" y="292.40" width="57.5" height="57.0" fill="url(#hatch)"/>
<clipPath id="c43"><polygon points="550.20,305.50 566.60,298.20 567.60,325.00 550.50,330.50"/></clipPath>
<g clip-path="url(#c42)"><g clip-path="url(#c43)"><g filter="url(#nmask)">
<rect x="513.10" y="292.40" width="57.5" height="57.0" fill="#b0b0b0"/>
<g transform="translate(513.10,292.40)" fill="none" stroke="#6c6c6c" stroke-opacity=".7" filter="url(#b2)"><path d="M37,25 L54.5,9.5" stroke-width="4.2"/><path d="M37,25 L54.5,9.5" stroke="#b8b8b8" stroke-opacity="1" stroke-width="1.5"/></g>
</g>
<g transform="translate(513.10,292.40)"><ellipse cx="39.4" cy="21.3" rx="1.4" ry="1.2" fill="#5e2f0c" transform="rotate(0 39.4 21.3)"/><path d="M39.3,21 L53.7,8.8" fill="none" stroke="#5e2f0c" stroke-width="0.8" stroke-opacity="0.75" stroke-linecap="butt" stroke-linejoin="round"/><ellipse cx="51.8" cy="17.4" rx="0.9" ry="0.7" fill="#5e2f0c" transform="rotate(-40 51.8 17.4)"/></g>
</g>
</g>
<clipPath id="c44"><rect x="513.80" y="352.10" width="57.5" height="57.0"/></clipPath>
<rect x="513.80" y="352.10" width="57.5" height="57.0" fill="url(#hatch)"/>
<clipPath id="c45"><polygon points="550.20,365.20 566.60,357.90 567.60,384.70 550.50,390.20"/></clipPath>
<g clip-path="url(#c44)"><g clip-path="url(#c45)"><g filter="url(#nmask)">
<rect x="513.10" y="352.10" width="57.5" height="57.0" fill="#b0b0b0"/>
<g transform="translate(513.10,352.10)" fill="none" stroke="#6c6c6c" stroke-opacity=".7" filter="url(#b2)"><path d="M37,25 L54.5,9.5" stroke-width="4.2"/><path d="M37,25 L54.5,9.5" stroke="#b8b8b8" stroke-opacity="1" stroke-width="1.5"/></g>
</g>
<g transform="translate(513.10,352.10)"><polygon points="37.3,22.2 42.9,18.5 48.4,16.85 54.6,13.1 54.8,15.6 49.5,18.5 44.0,21.3 37.8,26.1" fill="#5e2f0c" fill-opacity="1"/><polygon points="53.3,6.5 54.8,5.8 54.8,10.2 53.5,10.2" fill="#5e2f0c" fill-opacity="1"/></g>
</g>
</g>
<clipPath id="c46"><rect x="513.80" y="412.20" width="57.5" height="57.0"/></clipPath>
<rect x="513.80" y="412.20" width="57.5" height="57.0" fill="url(#hatch)"/>
<clipPath id="c47"><polygon points="550.20,425.30 566.60,418.00 567.60,444.80 550.50,450.30"/></clipPath>
<g clip-path="url(#c46)"><g clip-path="url(#c47)"><g filter="url(#nmask)">
<rect x="513.10" y="412.20" width="57.5" height="57.0" fill="#b0b0b0"/>
</g>
<g transform="translate(513.10,412.20)"><path d="M32,30.5 L58,8.9" fill="none" stroke="#c4651c" stroke-width="5.2" stroke-opacity="1" stroke-linecap="butt" stroke-linejoin="round"/><path d="M32,30.5 L58,8.9" fill="none" stroke="#efa556" stroke-width="2.2" stroke-opacity="1" stroke-linecap="butt" stroke-linejoin="round"/></g>
</g>
</g>
<clipPath id="c48"><rect x="513.80" y="499.50" width="57.5" height="57.0"/></clipPath>
<rect x="513.80" y="499.50" width="57.5" height="57.0" fill="url(#hatch)"/>
<clipPath id="c49"><polygon points="550.20,512.60 566.60,505.30 567.60,532.10 550.50,537.60"/></clipPath>
<g clip-path="url(#c48)"><g clip-path="url(#c49)"><g filter="url(#nmask)">
<rect x="513.10" y="499.50" width="57.5" height="57.0" fill="#b0b0b0"/>
<g transform="translate(513.10,499.50)" fill="none" stroke="#6c6c6c" stroke-opacity=".7" filter="url(#b2)"><path d="M37,25 L54.5,9.5" stroke-width="4.2"/><path d="M37,25 L54.5,9.5" stroke="#b8b8b8" stroke-opacity="1" stroke-width="1.5"/></g>
</g>
<g transform="translate(513.10,499.50)"><path d="M38,24 L53.5,9.5" fill="none" stroke="#5e2f0c" stroke-width="0.4" stroke-opacity="0.4" stroke-linecap="butt" stroke-linejoin="round"/></g>
</g>
</g>
<clipPath id="c50"><rect x="513.80" y="559.40" width="57.5" height="57.0"/></clipPath>
<rect x="513.80" y="559.40" width="57.5" height="57.0" fill="url(#hatch)"/>
<clipPath id="c51"><polygon points="550.20,572.50 566.60,565.20 567.60,592.00 550.50,597.50"/></clipPath>
<g clip-path="url(#c50)"><g clip-path="url(#c51)"><g filter="url(#nmask)">
<rect x="513.10" y="559.40" width="57.5" height="57.0" fill="#b0b0b0"/>
<g transform="translate(513.10,559.40)" fill="none" stroke="#6c6c6c" stroke-opacity=".7" filter="url(#b2)"><path d="M37,25 L54.5,9.5" stroke-width="4.2"/><path d="M37,25 L54.5,9.5" stroke="#b8b8b8" stroke-opacity="1" stroke-width="1.5"/></g>
</g>
<g transform="translate(513.10,559.40)"><path d="M38,23.5 L53.5,9.3" fill="none" stroke="#5e2f0c" stroke-width="0.6" stroke-opacity="0.6" stroke-linecap="butt" stroke-linejoin="round"/><path d="M38,26.5 L53.5,12.3" fill="none" stroke="#f2b28e" stroke-width="0.5" stroke-opacity="0.7" stroke-linecap="butt" stroke-linejoin="round"/></g>
</g>
</g>
<clipPath id="c52"><rect x="572.55" y="26.30" width="57.5" height="57.0"/></clipPath>
<g clip-path="url(#c52)"><g filter="url(#nraw)">
<rect x="572.55" y="26.30" width="57.5" height="57.0" fill="#b7b7b7"/>
<g transform="translate(572.55,26.30)" filter="url(#b1)" fill="none" stroke="#646464" stroke-linecap="round">
<path d="M-2,14 L60,2" stroke="#e8e8e8" stroke-width="9.4" stroke-opacity="0.18"/>
<path d="M-2,11 L60,-1" stroke="#e8e8e8" stroke-width="3.9" stroke-opacity="0.17"/>
<path d="M-2,21 L60,9" stroke="#e8e8e8" stroke-width="4.6" stroke-opacity="0.19"/>
<path d="M23,16 L27,60" stroke="#e8e8e8" stroke-width="5.4" stroke-opacity="0.25"/>
<path d="M30,26 L33,60" stroke="#e8e8e8" stroke-width="5.4" stroke-opacity="0.22"/>
<path d="M-2,46 L26,30" stroke="#e8e8e8" stroke-width="4.9" stroke-opacity="0.22"/>
<path d="M-2,48 L30,60" stroke="#e8e8e8" stroke-width="5.4" stroke-opacity="0.22"/>
<path d="M-2,14 L60,2" stroke-width="7" stroke-opacity="0.33"/>
<path d="M-2,11 L60,-1" stroke-width="1.5" stroke-opacity="0.3"/>
<path d="M-2,21 L60,9" stroke-width="2.2" stroke-opacity="0.35"/>
<path d="M23,16 L27,60" stroke-width="3" stroke-opacity="0.45"/>
<path d="M30,26 L33,60" stroke-width="3" stroke-opacity="0.4"/>
<path d="M-2,46 L26,30" stroke-width="2.5" stroke-opacity="0.4"/>
<path d="M-2,48 L30,60" stroke-width="3" stroke-opacity="0.4"/>
</g></g>
<polygon points="607.50,39.90 621.30,34.20 622.00,61.40 607.50,65.90" fill="none" stroke="#3f6f9b" stroke-width="1.2" stroke-linejoin="round"/>
</g>
<clipPath id="c53"><rect x="572.55" y="85.20" width="57.5" height="57.0"/></clipPath>
<rect x="572.55" y="85.20" width="57.5" height="57.0" fill="url(#hatch)"/>
<clipPath id="c54"><polygon points="607.50,98.80 621.30,93.10 622.00,120.30 607.50,124.80"/></clipPath>
<g clip-path="url(#c53)"><g clip-path="url(#c54)"><g filter="url(#nmask)">
<rect x="572.55" y="85.20" width="57.5" height="57.0" fill="#b0b0b0"/>
<g transform="translate(572.55,85.20)" fill="none" stroke="#6c6c6c" stroke-opacity=".7" filter="url(#b2)"><path d="M35,22 L49,10" stroke-width="4.2"/><path d="M35,22 L49,10" stroke="#b8b8b8" stroke-opacity="1" stroke-width="1.5"/></g>
</g>
</g>
</g>
<clipPath id="c55"><rect x="572.55" y="144.70" width="57.5" height="57.0"/></clipPath>
<rect x="572.55" y="144.70" width="57.5" height="57.0" fill="url(#hatch)"/>
<clipPath id="c56"><polygon points="607.50,158.30 621.30,152.60 622.00,179.80 607.50,184.30"/></clipPath>
<g clip-path="url(#c55)"><g clip-path="url(#c56)"><g filter="url(#nmask)">
<rect x="572.55" y="144.70" width="57.5" height="57.0" fill="#b0b0b0"/>
</g>
<g transform="translate(572.55,144.70)"><path d="M30,28.7 L52,6.6" fill="none" stroke="#c4651c" stroke-width="4.7" stroke-opacity="1" stroke-linecap="butt" stroke-linejoin="round"/><path d="M30,28.7 L52,6.6" fill="none" stroke="#efa556" stroke-width="1.8" stroke-opacity="1" stroke-linecap="butt" stroke-linejoin="round"/></g>
</g>
</g>
<clipPath id="c57"><rect x="572.55" y="205.10" width="57.5" height="57.0"/></clipPath>
<rect x="572.55" y="205.10" width="57.5" height="57.0" fill="url(#hatch)"/>
<clipPath id="c58"><polygon points="607.50,218.70 621.30,213.00 622.00,240.20 607.50,244.70"/></clipPath>
<g clip-path="url(#c57)"><g clip-path="url(#c58)"><g filter="url(#nmask)">
<rect x="572.55" y="205.10" width="57.5" height="57.0" fill="#b0b0b0"/>
</g>
<g transform="translate(572.55,205.10)"><polygon points="34,27.3 34,14.1 50,6.6 50,13.3" fill="#efa556" fill-opacity="1"/><path d="M34,27.4 L50,13.4" fill="none" stroke="#c4651c" stroke-width="1.1" stroke-opacity="1" stroke-linecap="butt" stroke-linejoin="round"/><path d="M35.8,16.6 L41.2,14.4" fill="none" stroke="#c4651c" stroke-width="1.7" stroke-opacity="1" stroke-linecap="round" stroke-linejoin="round"/><path d="M43.5,10.2 L47.5,9.0" fill="none" stroke="#c4651c" stroke-width="1.0" stroke-opacity="1" stroke-linecap="butt" stroke-linejoin="round"/></g>
</g>
</g>
<clipPath id="c59"><rect x="573.35" y="292.40" width="57.5" height="57.0"/></clipPath>
<rect x="573.35" y="292.40" width="57.5" height="57.0" fill="url(#hatch)"/>
<clipPath id="c60"><polygon points="607.50,306.00 621.30,300.30 622.00,327.50 607.50,332.00"/></clipPath>
<g clip-path="url(#c59)"><g clip-path="url(#c60)"><g filter="url(#nmask)">
<rect x="572.55" y="292.40" width="57.5" height="57.0" fill="#b0b0b0"/>
<g transform="translate(572.55,292.40)" fill="none" stroke="#6c6c6c" stroke-opacity=".7" filter="url(#b2)"><path d="M35,22 L49,10" stroke-width="4.2"/><path d="M35,22 L49,10" stroke="#b8b8b8" stroke-opacity="1" stroke-width="1.5"/></g>
</g>
<g transform="translate(572.55,292.40)"><polygon points="35.6,14.9 42.4,11.8 44.05,12.9 37.97,16.5 35.6,17.3" fill="#5e2f0c" fill-opacity="1"/><polygon points="41.85,10.2 49.3,8.3 49.8,16.5 47.7,15.8 47.4,12.4 44.05,12.7" fill="#5e2f0c" fill-opacity="1"/><ellipse cx="36.5" cy="26.8" rx="0.8" ry="0.8" fill="#5e2f0c" transform="rotate(0 36.5 26.8)"/></g>
</g>
</g>
<clipPath id="c61"><rect x="573.35" y="352.10" width="57.5" height="57.0"/></clipPath>
<rect x="573.35" y="352.10" width="57.5" height="57.0" fill="url(#hatch)"/>
<clipPath id="c62"><polygon points="607.50,365.70 621.30,360.00 622.00,387.20 607.50,391.70"/></clipPath>
<g clip-path="url(#c61)"><g clip-path="url(#c62)"><g filter="url(#nmask)">
<rect x="572.55" y="352.10" width="57.5" height="57.0" fill="#b0b0b0"/>
<g transform="translate(572.55,352.10)" fill="none" stroke="#6c6c6c" stroke-opacity=".7" filter="url(#b2)"><path d="M35,22 L49,10" stroke-width="4.2"/><path d="M35,22 L49,10" stroke="#b8b8b8" stroke-opacity="1" stroke-width="1.5"/></g>
</g>
<g transform="translate(572.55,352.10)"><polygon points="34.9,22.9 35.2,18.5 39.9,15.75 44.3,10.75 49.5,8.1 49.95,13.5 47.6,14.1 46.5,12.4 39.9,18.5 36.4,23.7" fill="#5e2f0c" fill-opacity="1"/></g>
</g>
</g>
<clipPath id="c63"><rect x="573.35" y="412.20" width="57.5" height="57.0"/></clipPath>
<rect x="573.35" y="412.20" width="57.5" height="57.0" fill="url(#hatch)"/>
<clipPath id="c64"><polygon points="607.50,425.80 621.30,420.10 622.00,447.30 607.50,451.80"/></clipPath>
<g clip-path="url(#c63)"><g clip-path="url(#c64)"><g filter="url(#nmask)">
<rect x="572.55" y="412.20" width="57.5" height="57.0" fill="#b0b0b0"/>
</g>
<g transform="translate(572.55,412.20)"><path d="M30,28.9 L46.5,12.9" fill="none" stroke="#c4651c" stroke-width="5.0" stroke-opacity="1" stroke-linecap="butt" stroke-linejoin="round"/><path d="M30,28.9 L46.5,12.9" fill="none" stroke="#efa556" stroke-width="2.0" stroke-opacity="1" stroke-linecap="butt" stroke-linejoin="round"/><polygon points="45.0,10.3 48.7,7.7 50.6,8.2 50.2,14.5 47.6,14.95 46.2,13.2" fill="#efa556" fill-opacity="1"/><path d="M44.6,10.9 L47.4,9.1" fill="none" stroke="#c4651c" stroke-width="0.9" stroke-opacity="1" stroke-linecap="butt" stroke-linejoin="round"/></g>
</g>
</g>
<clipPath id="c65"><rect x="573.35" y="499.50" width="57.5" height="57.0"/></clipPath>
<rect x="573.35" y="499.50" width="57.5" height="57.0" fill="url(#hatch)"/>
<clipPath id="c66"><polygon points="607.50,513.10 621.30,507.40 622.00,534.60 607.50,539.10"/></clipPath>
<g clip-path="url(#c65)"><g clip-path="url(#c66)"><g filter="url(#nmask)">
<rect x="572.55" y="499.50" width="57.5" height="57.0" fill="#b0b0b0"/>
<g transform="translate(572.55,499.50)" fill="none" stroke="#6c6c6c" stroke-opacity=".7" filter="url(#b2)"><path d="M35,22 L49,10" stroke-width="4.2"/><path d="M35,22 L49,10" stroke="#b8b8b8" stroke-opacity="1" stroke-width="1.5"/></g>
</g>
<g transform="translate(572.55,499.50)"><polygon points="44.85,9.8 49.6,8.0 49.6,15.35 47.05,14.25 46.5,12.0" fill="#5e2f0c" fill-opacity="1"/></g>
</g>
</g>
<clipPath id="c67"><rect x="573.35" y="559.40" width="57.5" height="57.0"/></clipPath>
<rect x="573.35" y="559.40" width="57.5" height="57.0" fill="url(#hatch)"/>
<clipPath id="c68"><polygon points="607.50,573.00 621.30,567.30 622.00,594.50 607.50,599.00"/></clipPath>
<g clip-path="url(#c67)"><g clip-path="url(#c68)"><g filter="url(#nmask)">
<rect x="572.55" y="559.40" width="57.5" height="57.0" fill="#b0b0b0"/>
<g transform="translate(572.55,559.40)" fill="none" stroke="#6c6c6c" stroke-opacity=".7" filter="url(#b2)"><path d="M35,22 L49,10" stroke-width="4.2"/><path d="M35,22 L49,10" stroke="#b8b8b8" stroke-opacity="1" stroke-width="1.5"/></g>
</g>
<g transform="translate(572.55,559.40)"><polygon points="45.4,9.9 49.6,8.3 49.6,13.2 47.05,12.65" fill="#5e2f0c" fill-opacity="1"/><path d="M35.4,21.5 L45.4,12.1" fill="none" stroke="#5e2f0c" stroke-width="0.6" stroke-opacity="0.7" stroke-linecap="butt" stroke-linejoin="round"/><ellipse cx="35.5" cy="24.8" rx="0.6" ry="0.6" fill="#5e2f0c" transform="rotate(0 35.5 24.8)"/></g>
</g>
</g>
<clipPath id="c69"><rect x="632.00" y="26.30" width="57.5" height="57.0"/></clipPath>
<g clip-path="url(#c69)"><g filter="url(#nraw)">
<rect x="632.00" y="26.30" width="57.5" height="57.0" fill="#b7b7b7"/>
<g transform="translate(632.00,26.30)" filter="url(#b1)" fill="none" stroke="#646464" stroke-linecap="round">
<path d="M-2,12 L60,0" stroke="#e8e8e8" stroke-width="5.4" stroke-opacity="0.28"/>
<path d="M-2,17 L60,5" stroke="#e8e8e8" stroke-width="5.4" stroke-opacity="0.25"/>
<path d="M-2,46 L42,9" stroke="#e8e8e8" stroke-width="4.9" stroke-opacity="0.25"/>
<path d="M25,30 L26,60" stroke="#e8e8e8" stroke-width="4.6" stroke-opacity="0.28"/>
<path d="M31,32 L32,60" stroke="#e8e8e8" stroke-width="4.6" stroke-opacity="0.28"/>
<path d="M-2,44 L24,60" stroke="#e8e8e8" stroke-width="4.9" stroke-opacity="0.22"/>
<path d="M-2,12 L60,0" stroke-width="3" stroke-opacity="0.5"/>
<path d="M-2,17 L60,5" stroke-width="3" stroke-opacity="0.45"/>
<path d="M-2,46 L42,9" stroke-width="2.5" stroke-opacity="0.45"/>
<path d="M25,30 L26,60" stroke-width="2.2" stroke-opacity="0.5"/>
<path d="M31,32 L32,60" stroke-width="2.2" stroke-opacity="0.5"/>
<path d="M-2,44 L24,60" stroke-width="2.5" stroke-opacity="0.4"/>
</g></g>
<polygon points="661.30,36.10 674.30,33.40 674.70,51.10 661.50,56.10" fill="none" stroke="#3f6f9b" stroke-width="1.2" stroke-linejoin="round"/>
</g>
<clipPath id="c70"><rect x="632.00" y="85.20" width="57.5" height="57.0"/></clipPath>
<rect x="632.00" y="85.20" width="57.5" height="57.0" fill="url(#hatch)"/>
<clipPath id="c71"><polygon points="661.30,95.00 674.30,92.30 674.70,110.00 661.50,115.00"/></clipPath>
<g clip-path="url(#c70)"><g clip-path="url(#c71)"><g filter="url(#nmask)">
<rect x="632.00" y="85.20" width="57.5" height="57.0" fill="#b0b0b0"/>
<g transform="translate(632.00,85.20)" fill="none" stroke="#6c6c6c" stroke-opacity=".7" filter="url(#b2)"><path d="M29.5,20 L42.5,8.5" stroke-width="4.2"/><path d="M29.5,20 L42.5,8.5" stroke="#b8b8b8" stroke-opacity="1" stroke-width="1.5"/></g>
</g>
</g>
</g>
<clipPath id="c72"><rect x="632.00" y="144.70" width="57.5" height="57.0"/></clipPath>
<rect x="632.00" y="144.70" width="57.5" height="57.0" fill="url(#hatch)"/>
<clipPath id="c73"><polygon points="661.30,154.50 674.30,151.80 674.70,169.50 661.50,174.50"/></clipPath>
<g clip-path="url(#c72)"><g clip-path="url(#c73)"><g filter="url(#nmask)">
<rect x="632.00" y="144.70" width="57.5" height="57.0" fill="#b0b0b0"/>
</g>
<g transform="translate(632.00,144.70)"><path d="M25,25.4 L46,4.8" fill="none" stroke="#c4651c" stroke-width="4.6" stroke-opacity="1" stroke-linecap="butt" stroke-linejoin="round"/><path d="M25,25.4 L46,4.8" fill="none" stroke="#efa556" stroke-width="1.8" stroke-opacity="1" stroke-linecap="butt" stroke-linejoin="round"/></g>
</g>
</g>
<clipPath id="c74"><rect x="632.00" y="205.10" width="57.5" height="57.0"/></clipPath>
<rect x="632.00" y="205.10" width="57.5" height="57.0" fill="url(#hatch)"/>
<clipPath id="c75"><polygon points="661.30,214.90 674.30,212.20 674.70,229.90 661.50,234.90"/></clipPath>
<g clip-path="url(#c74)"><g clip-path="url(#c75)"><g filter="url(#nmask)">
<rect x="632.00" y="205.10" width="57.5" height="57.0" fill="#b0b0b0"/>
</g>
<g transform="translate(632.00,205.10)"><polygon points="29,23.1 29,11.2 34.5,7.5 43,6.0 43,9.4" fill="#efa556" fill-opacity="1"/><path d="M29,23.3 L43,9.5" fill="none" stroke="#c4651c" stroke-width="1.0" stroke-opacity="1" stroke-linecap="butt" stroke-linejoin="round"/><path d="M31,11.4 L34.5,10.6" fill="none" stroke="#c4651c" stroke-width="1.2" stroke-opacity="1" stroke-linecap="butt" stroke-linejoin="round"/><path d="M39.5,9.3 L42.5,8.3" fill="none" stroke="#c4651c" stroke-width="1.2" stroke-opacity="1" stroke-linecap="butt" stroke-linejoin="round"/></g>
</g>
</g>
<clipPath id="c76"><rect x="632.90" y="292.40" width="57.5" height="57.0"/></clipPath>
<rect x="632.90" y="292.40" width="57.5" height="57.0" fill="url(#hatch)"/>
<clipPath id="c77"><polygon points="661.30,302.20 674.30,299.50 674.70,317.20 661.50,322.20"/></clipPath>
<g clip-path="url(#c76)"><g clip-path="url(#c77)"><g filter="url(#nmask)">
<rect x="632.00" y="292.40" width="57.5" height="57.0" fill="#b0b0b0"/>
<g transform="translate(632.00,292.40)" fill="none" stroke="#6c6c6c" stroke-opacity=".7" filter="url(#b2)"><path d="M29.5,20 L42.5,8.5" stroke-width="4.2"/><path d="M29.5,20 L42.5,8.5" stroke="#b8b8b8" stroke-opacity="1" stroke-width="1.5"/></g>
</g>
<g transform="translate(632.00,292.40)"><polygon points="30.4,12.1 34.4,11.0 38.85,8.2 43.3,7.6 43.3,11.0 40.5,11.6 38.85,10.5 34.4,12.7 30.6,14.5" fill="#5e2f0c" fill-opacity="1"/></g>
</g>
</g>
<clipPath id="c78"><rect x="632.90" y="352.10" width="57.5" height="57.0"/></clipPath>
<rect x="632.90" y="352.10" width="57.5" height="57.0" fill="url(#hatch)"/>
<clipPath id="c79"><polygon points="661.30,361.90 674.30,359.20 674.70,376.90 661.50,381.90"/></clipPath>
<g clip-path="url(#c78)"><g clip-path="url(#c79)"><g filter="url(#nmask)">
<rect x="632.00" y="352.10" width="57.5" height="57.0" fill="#b0b0b0"/>
<g transform="translate(632.00,352.10)" fill="none" stroke="#6c6c6c" stroke-opacity=".7" filter="url(#b2)"><path d="M29.5,20 L42.5,8.5" stroke-width="4.2"/><path d="M29.5,20 L42.5,8.5" stroke="#b8b8b8" stroke-opacity="1" stroke-width="1.5"/></g>
</g>
<g transform="translate(632.00,352.10)"><polygon points="29.8,19.2 30.4,14.1 33.95,10.2 37.3,7.45 42.9,6.8 42.4,9.65 38.4,10.75 36.2,11.85 31.6,17.6" fill="#5e2f0c" fill-opacity="1"/><polygon points="39.2,12.2 41.8,11.7 41.8,14.4 39.6,14.6" fill="#5e2f0c" fill-opacity="1"/></g>
</g>
</g>
<clipPath id="c80"><rect x="632.90" y="412.20" width="57.5" height="57.0"/></clipPath>
<rect x="632.90" y="412.20" width="57.5" height="57.0" fill="url(#hatch)"/>
<clipPath id="c81"><polygon points="661.30,422.00 674.30,419.30 674.70,437.00 661.50,442.00"/></clipPath>
<g clip-path="url(#c80)"><g clip-path="url(#c81)"><g filter="url(#nmask)">
<rect x="632.00" y="412.20" width="57.5" height="57.0" fill="#b0b0b0"/>
</g>
<g transform="translate(632.00,412.20)"><polygon points="29.5,15.9 38.4,9.0 43,6.2 43,9.55 40.6,11.75 30.65,22.9 29.5,23.6" fill="#efa556" fill-opacity="1"/><path d="M29.5,23.5 L40.8,11.7" fill="none" stroke="#c4651c" stroke-width="1.0" stroke-opacity="1" stroke-linecap="butt" stroke-linejoin="round"/><polygon points="38.0,9.2 43,6.2 43,9.5 40.6,11.75 39.4,10.7" fill="#c4651c" fill-opacity="0.9"/><path d="M29.5,16.0 L38.4,9.0" fill="none" stroke="#c4651c" stroke-width="0.9" stroke-opacity="1" stroke-linecap="butt" stroke-linejoin="round"/></g>
</g>
</g>
<clipPath id="c82"><rect x="632.90" y="499.50" width="57.5" height="57.0"/></clipPath>
<rect x="632.90" y="499.50" width="57.5" height="57.0" fill="url(#hatch)"/>
<clipPath id="c83"><polygon points="661.30,509.30 674.30,506.60 674.70,524.30 661.50,529.30"/></clipPath>
<g clip-path="url(#c82)"><g clip-path="url(#c83)"><g filter="url(#nmask)">
<rect x="632.00" y="499.50" width="57.5" height="57.0" fill="#b0b0b0"/>
<g transform="translate(632.00,499.50)" fill="none" stroke="#6c6c6c" stroke-opacity=".7" filter="url(#b2)"><path d="M29.5,20 L42.5,8.5" stroke-width="4.2"/><path d="M29.5,20 L42.5,8.5" stroke="#b8b8b8" stroke-opacity="1" stroke-width="1.5"/></g>
</g>
<g transform="translate(632.00,499.50)"><polygon points="38.4,8.7 43,6.2 43,10.9 40.6,10.35" fill="#5e2f0c" fill-opacity="1"/><ellipse cx="38.1" cy="15.0" rx="0.8" ry="0.8" fill="#5e2f0c" transform="rotate(0 38.1 15.0)"/></g>
</g>
</g>
<clipPath id="c84"><rect x="632.90" y="559.40" width="57.5" height="57.0"/></clipPath>
<rect x="632.90" y="559.40" width="57.5" height="57.0" fill="url(#hatch)"/>
<clipPath id="c85"><polygon points="661.30,569.20 674.30,566.50 674.70,584.20 661.50,589.20"/></clipPath>
<g clip-path="url(#c84)"><g clip-path="url(#c85)"><g filter="url(#nmask)">
<rect x="632.00" y="559.40" width="57.5" height="57.0" fill="#b0b0b0"/>
<g transform="translate(632.00,559.40)" fill="none" stroke="#6c6c6c" stroke-opacity=".7" filter="url(#b2)"><path d="M29.5,20 L42.5,8.5" stroke-width="4.2"/><path d="M29.5,20 L42.5,8.5" stroke="#b8b8b8" stroke-opacity="1" stroke-width="1.5"/></g>
</g>
<g transform="translate(632.00,559.40)"><path d="M30.1,18.2 L38.4,10.4" fill="none" stroke="#5e2f0c" stroke-width="0.7" stroke-opacity="0.8" stroke-linecap="butt" stroke-linejoin="round"/><polygon points="40.6,6.6 42.9,6.0 42.9,8.0 40.8,8.4" fill="#5e2f0c" fill-opacity="1"/></g>
</g>
</g>
<clipPath id="c86"><rect x="691.45" y="26.30" width="57.5" height="57.0"/></clipPath>
<g clip-path="url(#c86)"><g filter="url(#nraw)">
<rect x="691.45" y="26.30" width="57.5" height="57.0" fill="#b7b7b7"/>
<g transform="translate(691.45,26.30)" filter="url(#b1)" fill="none" stroke="#646464" stroke-linecap="round">
<path d="M-2,16 L60,-1" stroke="#e8e8e8" stroke-width="5.9" stroke-opacity="0.28"/>
<path d="M-2,23 L52,2" stroke="#e8e8e8" stroke-width="4.6" stroke-opacity="0.22"/>
<path d="M-2,50 L31,10" stroke="#e8e8e8" stroke-width="4.4" stroke-opacity="0.17"/>
<path d="M-2,50 L12,60" stroke="#e8e8e8" stroke-width="4.9" stroke-opacity="0.22"/>
<path d="M-2,16 L60,-1" stroke-width="3.5" stroke-opacity="0.5"/>
<path d="M-2,23 L52,2" stroke-width="2.2" stroke-opacity="0.4"/>
<path d="M-2,50 L31,10" stroke-width="2" stroke-opacity="0.3"/>
<path d="M-2,50 L12,60" stroke-width="2.5" stroke-opacity="0.4"/>
</g></g>
<polygon points="712.50,37.40 725.00,35.20 725.20,66.70 712.50,70.40" fill="none" stroke="#3f6f9b" stroke-width="1.2" stroke-linejoin="round"/>
</g>
<clipPath id="c87"><rect x="691.45" y="85.20" width="57.5" height="57.0"/></clipPath>
<rect x="691.45" y="85.20" width="57.5" height="57.0" fill="url(#hatch)"/>
<clipPath id="c88"><polygon points="712.50,96.30 725.00,94.10 725.20,125.60 712.50,129.30"/></clipPath>
<g clip-path="url(#c87)"><g clip-path="url(#c88)"><g filter="url(#nmask)">
<rect x="691.45" y="85.20" width="57.5" height="57.0" fill="#b0b0b0"/>
<g transform="translate(691.45,85.20)" fill="none" stroke="#6c6c6c" stroke-opacity=".7" filter="url(#b2)"><path d="M21,21 L34,10" stroke-width="4.2"/><path d="M21,21 L34,10" stroke="#b8b8b8" stroke-opacity="1" stroke-width="1.5"/></g>
</g>
</g>
</g>
<clipPath id="c89"><rect x="691.45" y="144.70" width="57.5" height="57.0"/></clipPath>
<rect x="691.45" y="144.70" width="57.5" height="57.0" fill="url(#hatch)"/>
<clipPath id="c90"><polygon points="712.50,155.80 725.00,153.60 725.20,185.10 712.50,188.80"/></clipPath>
<g clip-path="url(#c89)"><g clip-path="url(#c90)"><g filter="url(#nmask)">
<rect x="691.45" y="144.70" width="57.5" height="57.0" fill="#b0b0b0"/>
</g>
<g transform="translate(691.45,144.70)"><path d="M17,25.6 L36,7.3" fill="none" stroke="#c4651c" stroke-width="4.4" stroke-opacity="1" stroke-linecap="butt" stroke-linejoin="round"/><path d="M17,25.6 L36,7.3" fill="none" stroke="#efa556" stroke-width="1.8" stroke-opacity="1" stroke-linecap="butt" stroke-linejoin="round"/></g>
</g>
</g>
<clipPath id="c91"><rect x="691.45" y="205.10" width="57.5" height="57.0"/></clipPath>
<rect x="691.45" y="205.10" width="57.5" height="57.0" fill="url(#hatch)"/>
<clipPath id="c92"><polygon points="715.80,216.20 728.30,214.00 728.50,245.50 715.80,249.20"/></clipPath>
<g clip-path="url(#c91)"><g clip-path="url(#c92)"><g filter="url(#nmask)">
<rect x="691.45" y="205.10" width="57.5" height="57.0" fill="#b0b0b0"/>
</g>
<g transform="translate(691.45,205.10)"><polygon points="24,23.5 24,10.9 28.5,8.5 38,7.3 38,11.8" fill="#efa556" fill-opacity="1"/><path d="M24.2,12.2 L27.2,11.2" fill="none" stroke="#c4651c" stroke-width="1.6" stroke-opacity="1" stroke-linecap="butt" stroke-linejoin="round"/><path d="M28.3,21.6 L32.6,17.0" fill="none" stroke="#c4651c" stroke-width="1.4" stroke-opacity="1" stroke-linecap="butt" stroke-linejoin="round"/></g>
</g>
<g transform="translate(691.45,205.10)"><path d="M24.7,25.2 L26.3,24.2" fill="none" stroke="#c4651c" stroke-width="1.4" stroke-opacity="1" stroke-linecap="butt" stroke-linejoin="round"/></g>
</g>
<clipPath id="c93"><rect x="692.45" y="292.40" width="57.5" height="57.0"/></clipPath>
<rect x="692.45" y="292.40" width="57.5" height="57.0" fill="url(#hatch)"/>
<clipPath id="c94"><polygon points="712.50,303.50 725.00,301.30 725.20,332.80 712.50,336.50"/></clipPath>
<g clip-path="url(#c93)"><g clip-path="url(#c94)"><g filter="url(#nmask)">
<rect x="691.45" y="292.40" width="57.5" height="57.0" fill="#b0b0b0"/>
<g transform="translate(691.45,292.40)" fill="none" stroke="#6c6c6c" stroke-opacity=".7" filter="url(#b2)"><path d="M21,21 L34,10" stroke-width="4.2"/><path d="M21,21 L34,10" stroke="#b8b8b8" stroke-opacity="1" stroke-width="1.5"/></g>
</g>
<g transform="translate(691.45,292.40)"><polygon points="21.9,11.8 27.9,10.7 23.5,17.65 21.9,17.3" fill="#5e2f0c" fill-opacity="1"/><polygon points="29.0,10.5 34.2,9.3 33.3,12.1 26.25,18.75 25.15,18.2 30.7,12.1" fill="#5e2f0c" fill-opacity="1"/><ellipse cx="23.4" cy="21.3" rx="1.2" ry="1.6" fill="#f2b28e" transform="rotate(20 23.4 21.3)"/></g>
</g>
</g>
<clipPath id="c95"><rect x="692.45" y="352.10" width="57.5" height="57.0"/></clipPath>
<rect x="692.45" y="352.10" width="57.5" height="57.0" fill="url(#hatch)"/>
<clipPath id="c96"><polygon points="712.50,363.20 725.00,361.00 725.20,392.50 712.50,396.20"/></clipPath>
<g clip-path="url(#c95)"><g clip-path="url(#c96)"><g filter="url(#nmask)">
<rect x="691.45" y="352.10" width="57.5" height="57.0" fill="#b0b0b0"/>
<g transform="translate(691.45,352.10)" fill="none" stroke="#6c6c6c" stroke-opacity=".7" filter="url(#b2)"><path d="M21,21 L34,10" stroke-width="4.2"/><path d="M21,21 L34,10" stroke="#b8b8b8" stroke-opacity="1" stroke-width="1.5"/></g>
</g>
<g transform="translate(691.45,352.10)"><polygon points="21.7,20.3 21.7,11.85 27.65,9.85 33.6,9.0 33.1,11.3 30.95,11.3 26.55,16.3 23.1,20.9" fill="#5e2f0c" fill-opacity="1"/><polygon points="32.3,16.3 33.75,16.3 33.75,20.15 32.3,20.15" fill="#5e2f0c" fill-opacity="1"/><ellipse cx="22.6" cy="21.4" rx="0.8" ry="0.8" fill="#f2b28e" transform="rotate(0 22.6 21.4)"/></g>
</g>
</g>
<clipPath id="c97"><rect x="692.45" y="412.20" width="57.5" height="57.0"/></clipPath>
<rect x="692.45" y="412.20" width="57.5" height="57.0" fill="url(#hatch)"/>
<clipPath id="c98"><polygon points="712.50,423.30 725.00,421.10 725.20,452.60 712.50,456.30"/></clipPath>
<g clip-path="url(#c97)"><g clip-path="url(#c98)"><g filter="url(#nmask)">
<rect x="691.45" y="412.20" width="57.5" height="57.0" fill="#b0b0b0"/>
</g>
<g transform="translate(691.45,412.20)"><polygon points="21.8,22.6 21.8,11.2 26.55,9.35 34.6,8.5 33.9,10.65 23.2,23.1" fill="#efa556" fill-opacity="1"/><path d="M21.8,11.3 L26.55,9.5 L34.4,8.7" fill="none" stroke="#c4651c" stroke-width="1.2" stroke-opacity="1" stroke-linecap="butt" stroke-linejoin="round"/><path d="M22.4,23.2 L33.9,10.6" fill="none" stroke="#c4651c" stroke-width="0.8" stroke-opacity="1" stroke-linecap="butt" stroke-linejoin="round"/></g>
</g>
<g transform="translate(691.45,412.20)"><ellipse cx="27.3" cy="45.2" rx="3.0" ry="1.5" fill="#c4651c" transform="rotate(-12 27.3 45.2)"/></g>
</g>
<clipPath id="c99"><rect x="692.45" y="499.50" width="57.5" height="57.0"/></clipPath>
<rect x="692.45" y="499.50" width="57.5" height="57.0" fill="url(#hatch)"/>
<clipPath id="c100"><polygon points="712.50,510.60 725.00,508.40 725.20,539.90 712.50,543.60"/></clipPath>
<g clip-path="url(#c99)"><g clip-path="url(#c100)"><g filter="url(#nmask)">
<rect x="691.45" y="499.50" width="57.5" height="57.0" fill="#b0b0b0"/>
<g transform="translate(691.45,499.50)" fill="none" stroke="#6c6c6c" stroke-opacity=".7" filter="url(#b2)"><path d="M21,21 L34,10" stroke-width="4.2"/><path d="M21,21 L34,10" stroke="#b8b8b8" stroke-opacity="1" stroke-width="1.5"/></g>
</g>
<g transform="translate(691.45,499.50)"><polygon points="21.4,16.45 21.4,11.25 27.65,9.8 33.6,8.9 33.1,12.0 29.3,16.45 28.2,15.9 30.95,11.45 27.65,11.25 23.2,16.45" fill="#5e2f0c" fill-opacity="1"/></g>
</g>
<g transform="translate(691.45,499.50)"><ellipse cx="27.3" cy="45.3" rx="2.6" ry="1.3" fill="#5e2f0c" transform="rotate(-12 27.3 45.3)"/></g>
</g>
<clipPath id="c101"><rect x="692.45" y="559.40" width="57.5" height="57.0"/></clipPath>
<rect x="692.45" y="559.40" width="57.5" height="57.0" fill="url(#hatch)"/>
<clipPath id="c102"><polygon points="712.50,570.50 725.00,568.30 725.20,599.80 712.50,603.50"/></clipPath>
<g clip-path="url(#c101)"><g clip-path="url(#c102)"><g filter="url(#nmask)">
<rect x="691.45" y="559.40" width="57.5" height="57.0" fill="#b0b0b0"/>
<g transform="translate(691.45,559.40)" fill="none" stroke="#6c6c6c" stroke-opacity=".7" filter="url(#b2)"><path d="M21,21 L34,10" stroke-width="4.2"/><path d="M21,21 L34,10" stroke="#b8b8b8" stroke-opacity="1" stroke-width="1.5"/></g>
</g>
<g transform="translate(691.45,559.40)"><polygon points="21.6,18.4 21.6,12.45 26.55,10.45 33.6,8.7 33.1,10.45 29.3,11.55 23.2,18.4" fill="#5e2f0c" fill-opacity="1"/></g>
</g>
</g>
<clipPath id="c103"><rect x="750.90" y="26.30" width="57.5" height="57.0"/></clipPath>
<g clip-path="url(#c103)"><g filter="url(#nraw)">
<rect x="750.90" y="26.30" width="57.5" height="57.0" fill="#b7b7b7"/>
<g transform="translate(750.90,26.30)" filter="url(#b1)" fill="none" stroke="#646464" stroke-linecap="round">
<path d="M-2,33 C15,28 28,21 42,18 S52,19 56,21" stroke="#e8e8e8" stroke-width="4.6" stroke-opacity="0.30"/>
<path d="M-2,39 C15,35 28,31 40,26 S50,23 53,23" stroke="#e8e8e8" stroke-width="4.6" stroke-opacity="0.28"/>
<path d="M-2,33 C15,28 28,21 42,18 S52,19 56,21" stroke-width="2.2" stroke-opacity="0.55"/>
<path d="M-2,39 C15,35 28,31 40,26 S50,23 53,23" stroke-width="2.2" stroke-opacity="0.5"/>
</g></g>
<polygon points="766.50,39.10 772.50,37.90 772.70,70.90 766.50,73.10" fill="none" stroke="#3f6f9b" stroke-width="1.2" stroke-linejoin="round"/>
</g>
<clipPath id="c104"><rect x="750.90" y="85.20" width="57.5" height="57.0"/></clipPath>
<rect x="750.90" y="85.20" width="57.5" height="57.0" fill="url(#hatch)"/>
<clipPath id="c105"><polygon points="766.50,98.00 772.50,96.80 772.70,129.80 766.50,132.00"/></clipPath>
<g clip-path="url(#c104)"><g clip-path="url(#c105)"><g filter="url(#nmask)">
<rect x="750.90" y="85.20" width="57.5" height="57.0" fill="#b0b0b0"/>
</g>
</g>
</g>
<clipPath id="c106"><rect x="750.90" y="144.70" width="57.5" height="57.0"/></clipPath>
<rect x="750.90" y="144.70" width="57.5" height="57.0" fill="url(#hatch)"/>
<clipPath id="c107"><polygon points="766.50,157.50 772.50,156.30 772.70,189.30 766.50,191.50"/></clipPath>
<g clip-path="url(#c106)"><g clip-path="url(#c107)"><g filter="url(#nmask)">
<rect x="750.90" y="144.70" width="57.5" height="57.0" fill="#b0b0b0"/>
</g>
</g>
<g transform="translate(750.90,144.70)"><ellipse cx="15.7" cy="35.8" rx="0.6" ry="0.6" fill="#c4651c" transform="rotate(0 15.7 35.8)"/></g>
</g>
<clipPath id="c108"><rect x="750.90" y="205.10" width="57.5" height="57.0"/></clipPath>
<rect x="750.90" y="205.10" width="57.5" height="57.0" fill="url(#hatch)"/>
<clipPath id="c109"><polygon points="766.50,217.90 772.50,216.70 772.70,249.70 766.50,251.90"/></clipPath>
<g clip-path="url(#c108)"><g clip-path="url(#c109)"><g filter="url(#nmask)">
<rect x="750.90" y="205.10" width="57.5" height="57.0" fill="#b0b0b0"/>
</g>
<g transform="translate(750.90,205.10)"><polygon points="15,25.8 22,23.9 22,31.4 15,36.6" fill="#efa556" fill-opacity="1"/><path d="M15,25.9 L22,24.0" fill="none" stroke="#c4651c" stroke-width="1.2" stroke-opacity="1" stroke-linecap="butt" stroke-linejoin="round"/><path d="M15.2,36.0 L18.2,33.4" fill="none" stroke="#c4651c" stroke-width="1.4" stroke-opacity="1" stroke-linecap="butt" stroke-linejoin="round"/></g>
</g>
<g transform="translate(750.90,205.10)"><ellipse cx="12.8" cy="44.5" rx="0.8" ry="0.7" fill="#c4651c" transform="rotate(0 12.8 44.5)"/></g>
</g>
<clipPath id="c110"><rect x="752.00" y="292.40" width="57.5" height="57.0"/></clipPath>
<rect x="752.00" y="292.40" width="57.5" height="57.0" fill="url(#hatch)"/>
<clipPath id="c111"><polygon points="766.50,305.20 772.50,304.00 772.70,337.00 766.50,339.20"/></clipPath>
<g clip-path="url(#c110)"><g clip-path="url(#c111)"><g filter="url(#nmask)">
<rect x="750.90" y="292.40" width="57.5" height="57.0" fill="#b0b0b0"/>
</g>
<g transform="translate(750.90,292.40)"><polygon points="15.9,26.9 21.4,24.7 21.4,33.15 15.9,37.8" fill="#5e2f0c" fill-opacity="1"/></g>
</g>
<g transform="translate(750.90,292.40)"><ellipse cx="13.3" cy="45.9" rx="0.7" ry="0.7" fill="#5e2f0c" transform="rotate(0 13.3 45.9)"/></g>
</g>
<clipPath id="c112"><rect x="752.00" y="352.10" width="57.5" height="57.0"/></clipPath>
<rect x="752.00" y="352.10" width="57.5" height="57.0" fill="url(#hatch)"/>
<clipPath id="c113"><polygon points="766.50,364.90 772.50,363.70 772.70,396.70 766.50,398.90"/></clipPath>
<g clip-path="url(#c112)"><g clip-path="url(#c113)"><g filter="url(#nmask)">
<rect x="750.90" y="352.10" width="57.5" height="57.0" fill="#b0b0b0"/>
</g>
<g transform="translate(750.90,352.10)"><polygon points="15.5,27.6 21.6,26.5 22.0,30.0 17.0,35.5 15.5,34.0" fill="#5e2f0c" fill-opacity="1"/></g>
</g>
</g>
<clipPath id="c114"><rect x="752.00" y="412.20" width="57.5" height="57.0"/></clipPath>
<rect x="752.00" y="412.20" width="57.5" height="57.0" fill="url(#hatch)"/>
<clipPath id="c115"><polygon points="766.50,425.00 772.50,423.80 772.70,456.80 766.50,459.00"/></clipPath>
<g clip-path="url(#c114)"><g clip-path="url(#c115)"><g filter="url(#nmask)">
<rect x="750.90" y="412.20" width="57.5" height="57.0" fill="#b0b0b0"/>
</g>
<g transform="translate(750.90,412.20)"><polygon points="15.3,25.7 22.1,23.3 22.1,33.7 15.3,36.5" fill="#efa556" fill-opacity="1"/><path d="M15.3,25.8 L22.1,23.5" fill="none" stroke="#c4651c" stroke-width="1.3" stroke-opacity="1" stroke-linecap="butt" stroke-linejoin="round"/><path d="M17.5,34.8 L21.5,30.5" fill="none" stroke="#c4651c" stroke-width="1.3" stroke-opacity="1" stroke-linecap="butt" stroke-linejoin="round"/><path d="M15.3,36.2 L18,35.2" fill="none" stroke="#c4651c" stroke-width="1.0" stroke-opacity="1" stroke-linecap="butt" stroke-linejoin="round"/></g>
</g>
</g>
<clipPath id="c116"><rect x="752.00" y="499.50" width="57.5" height="57.0"/></clipPath>
<rect x="752.00" y="499.50" width="57.5" height="57.0" fill="url(#hatch)"/>
<clipPath id="c117"><polygon points="766.50,512.30 772.50,511.10 772.70,544.10 766.50,546.30"/></clipPath>
<g clip-path="url(#c116)"><g clip-path="url(#c117)"><g filter="url(#nmask)">
<rect x="750.90" y="499.50" width="57.5" height="57.0" fill="#b0b0b0"/>
</g>
<g transform="translate(750.90,499.50)"><polygon points="16.0,26.7 21.5,24.3 21.5,35.3 16.0,37.2" fill="#5e2f0c" fill-opacity="1"/></g>
</g>
</g>
<clipPath id="c118"><rect x="752.00" y="559.40" width="57.5" height="57.0"/></clipPath>
<rect x="752.00" y="559.40" width="57.5" height="57.0" fill="url(#hatch)"/>
<clipPath id="c119"><polygon points="766.50,572.20 772.50,571.00 772.70,604.00 766.50,606.20"/></clipPath>
<g clip-path="url(#c118)"><g clip-path="url(#c119)"><g filter="url(#nmask)">
<rect x="750.90" y="559.40" width="57.5" height="57.0" fill="#b0b0b0"/>
</g>
<g transform="translate(750.90,559.40)"><polygon points="15.5,28.25 20.6,26.4 20.8,31.55 18.0,32.5 17.0,34.6 15.5,34.6" fill="#5e2f0c" fill-opacity="1"/></g>
</g>
</g>
<line x1="426.3" y1="72.8" x2="447.5" y2="72.8" stroke="#111" stroke-width="1.2"/>
<text x="439.2" y="81.3" text-anchor="middle" font-family="Liberation Sans, sans-serif" font-size="8.8" font-weight="bold" fill="#111">50nm</text>
<rect x="397" y="147.3" width="15" height="15.6" fill="#bf6522"/>
<rect x="397" y="162.9" width="15" height="16.5" fill="#e9a562"/>
<text x="398.0" y="159.5" font-family="Liberation Sans, sans-serif" font-size="11.8" font-weight="normal" fill="#fff" stroke="#fff" stroke-width="0.22" textLength="13.2" lengthAdjust="spacingAndGlyphs">A1</text>
<text x="398.0" y="175.6" font-family="Liberation Sans, sans-serif" font-size="11.8" font-weight="normal" fill="#fff" stroke="#fff" stroke-width="0.22" textLength="13.2" lengthAdjust="spacingAndGlyphs">A2</text>
<rect x="397.2" y="295.2" width="14.8" height="16.4" fill="#5c3010"/>
<rect x="397.2" y="311.6" width="14.8" height="14.9" fill="#f3b48c"/>
<text x="398.0" y="308.2" font-family="Liberation Sans, sans-serif" font-size="12" font-weight="normal" fill="#fff" stroke="#fff" stroke-width="0.22" textLength="13.4" lengthAdjust="spacingAndGlyphs">FP</text>
<text x="398.0" y="323.6" font-family="Liberation Sans, sans-serif" font-size="12" font-weight="normal" fill="#fff" stroke="#fff" stroke-width="0.22" textLength="13.4" lengthAdjust="spacingAndGlyphs">FN</text>
<text x="395.1" y="272.0" font-family="Liberation Sans, sans-serif" font-size="10.0" font-weight="normal" fill="#000" stroke="#000" stroke-width="0.22" textLength="52.4" lengthAdjust="spacingAndGlyphs">A1: 0.9286</text>
<text x="395.1" y="285.6" font-family="Liberation Sans, sans-serif" font-size="10.0" font-weight="normal" fill="#000" stroke="#000" stroke-width="0.22" textLength="52.4" lengthAdjust="spacingAndGlyphs">A2: 0.8182</text>
<text x="396.4" y="479.3" font-family="Liberation Sans, sans-serif" font-size="10.0" font-weight="bold" fill="#000" stroke="#000" stroke-width="0" textLength="52.4" lengthAdjust="spacingAndGlyphs">A1: 0.9679</text>
<text x="396.4" y="492.9" font-family="Liberation Sans, sans-serif" font-size="10.0" font-weight="bold" fill="#000" stroke="#000" stroke-width="0" textLength="52.4" lengthAdjust="spacingAndGlyphs">A2: 0.9024</text>
<text x="454.5" y="272.8" font-family="Liberation Sans, sans-serif" font-size="10.0" font-weight="normal" fill="#000" stroke="#000" stroke-width="0.22" textLength="51.7" lengthAdjust="spacingAndGlyphs">A1: 0.9645</text>
<text x="454.5" y="286.3" font-family="Liberation Sans, sans-serif" font-size="10.0" font-weight="normal" fill="#000" stroke="#000" stroke-width="0.22" textLength="51.7" lengthAdjust="spacingAndGlyphs">A2: 0.9107</text>
<text x="454.8" y="479.3" font-family="Liberation Sans, sans-serif" font-size="10.0" font-weight="bold" fill="#000" stroke="#000" stroke-width="0" textLength="52.2" lengthAdjust="spacingAndGlyphs">A1: 0.9736</text>
<text x="454.8" y="492.9" font-family="Liberation Sans, sans-serif" font-size="10.0" font-weight="bold" fill="#000" stroke="#000" stroke-width="0" textLength="52.2" lengthAdjust="spacingAndGlyphs">A2: 0.9661</text>
<text x="513.9" y="272.8" font-family="Liberation Sans, sans-serif" font-size="10.0" font-weight="normal" fill="#000" stroke="#000" stroke-width="0.22" textLength="51.7" lengthAdjust="spacingAndGlyphs">A1: 0.9590</text>
<text x="513.9" y="286.3" font-family="Liberation Sans, sans-serif" font-size="10.0" font-weight="normal" fill="#000" stroke="#000" stroke-width="0.22" textLength="51.7" lengthAdjust="spacingAndGlyphs">A2: 0.8340</text>
<text x="513.4" y="479.3" font-family="Liberation Sans, sans-serif" font-size="10.0" font-weight="bold" fill="#000" stroke="#000" stroke-width="0" textLength="51.7" lengthAdjust="spacingAndGlyphs">A1: 0.9751</text>
<text x="513.4" y="492.9" font-family="Liberation Sans, sans-serif" font-size="10.0" font-weight="bold" fill="#000" stroke="#000" stroke-width="0" textLength="51.7" lengthAdjust="spacingAndGlyphs">A2: 0.9312</text>
<text x="572.8" y="272.8" font-family="Liberation Sans, sans-serif" font-size="10.0" font-weight="normal" fill="#000" stroke="#000" stroke-width="0.22" textLength="52.4" lengthAdjust="spacingAndGlyphs">A1: 0.8659</text>
<text x="572.8" y="286.3" font-family="Liberation Sans, sans-serif" font-size="10.0" font-weight="normal" fill="#000" stroke="#000" stroke-width="0.22" textLength="52.4" lengthAdjust="spacingAndGlyphs">A2: 0.7734</text>
<text x="572.8" y="479.3" font-family="Liberation Sans, sans-serif" font-size="10.0" font-weight="bold" fill="#000" stroke="#000" stroke-width="0" textLength="53.0" lengthAdjust="spacingAndGlyphs">A1: 0.9110</text>
<text x="572.8" y="492.9" font-family="Liberation Sans, sans-serif" font-size="10.0" font-weight="bold" fill="#000" stroke="#000" stroke-width="0" textLength="53.0" lengthAdjust="spacingAndGlyphs">A2: 0.8716</text>
<text x="632.2" y="271.7" font-family="Liberation Sans, sans-serif" font-size="10.0" font-weight="normal" fill="#000" stroke="#000" stroke-width="0.22" textLength="52.5" lengthAdjust="spacingAndGlyphs">A1: 0.9165</text>
<text x="632.2" y="285.3" font-family="Liberation Sans, sans-serif" font-size="10.0" font-weight="normal" fill="#000" stroke="#000" stroke-width="0.22" textLength="52.5" lengthAdjust="spacingAndGlyphs">A2: 0.7129</text>
<text x="632.2" y="479.3" font-family="Liberation Sans, sans-serif" font-size="10.0" font-weight="bold" fill="#000" stroke="#000" stroke-width="0" textLength="53.0" lengthAdjust="spacingAndGlyphs">A1: 0.9400</text>
<text x="632.2" y="492.9" font-family="Liberation Sans, sans-serif" font-size="10.0" font-weight="bold" fill="#000" stroke="#000" stroke-width="0" textLength="53.0" lengthAdjust="spacingAndGlyphs">A2: 0.8544</text>
<text x="691.6" y="272.7" font-family="Liberation Sans, sans-serif" font-size="10.0" font-weight="normal" fill="#000" stroke="#000" stroke-width="0.22" textLength="52.0" lengthAdjust="spacingAndGlyphs">A1: 0.8128</text>
<text x="691.6" y="286.0" font-family="Liberation Sans, sans-serif" font-size="10.0" font-weight="normal" fill="#000" stroke="#000" stroke-width="0.22" textLength="52.0" lengthAdjust="spacingAndGlyphs">A2: 0.6921</text>
<text x="691.6" y="479.3" font-family="Liberation Sans, sans-serif" font-size="10.0" font-weight="bold" fill="#000" stroke="#000" stroke-width="0" textLength="52.5" lengthAdjust="spacingAndGlyphs">A1: 0.8369</text>
<text x="691.6" y="492.9" font-family="Liberation Sans, sans-serif" font-size="10.0" font-weight="bold" fill="#000" stroke="#000" stroke-width="0" textLength="52.5" lengthAdjust="spacingAndGlyphs">A2: 0.7716</text>
<text x="751.3" y="271.8" font-family="Liberation Sans, sans-serif" font-size="10.0" font-weight="normal" fill="#000" stroke="#000" stroke-width="0.22" textLength="52.7" lengthAdjust="spacingAndGlyphs">A1: 0.5118</text>
<text x="751.3" y="285.3" font-family="Liberation Sans, sans-serif" font-size="10.0" font-weight="normal" fill="#000" stroke="#000" stroke-width="0.22" textLength="52.7" lengthAdjust="spacingAndGlyphs">A2: 0.5018</text>
<text x="749.8" y="479.3" font-family="Liberation Sans, sans-serif" font-size="10.0" font-weight="bold" fill="#000" stroke="#000" stroke-width="0" textLength="52.9" lengthAdjust="spacingAndGlyphs">A1: 0.5119</text>
<text x="749.8" y="492.9" font-family="Liberation Sans, sans-serif" font-size="10.0" font-weight="bold" fill="#000" stroke="#000" stroke-width="0" textLength="52.9" lengthAdjust="spacingAndGlyphs">A2: 0.5075</text>
<path d="M391.8,410.3 V617.9 H811.0 V410.3" fill="none" stroke="#e3128a" stroke-width="2"/>
<rect x="391.8" y="203.8" width="419.2" height="206.5" fill="none" stroke="#4f8f2f" stroke-width="1.7"/>
</svg>
</body></html>
